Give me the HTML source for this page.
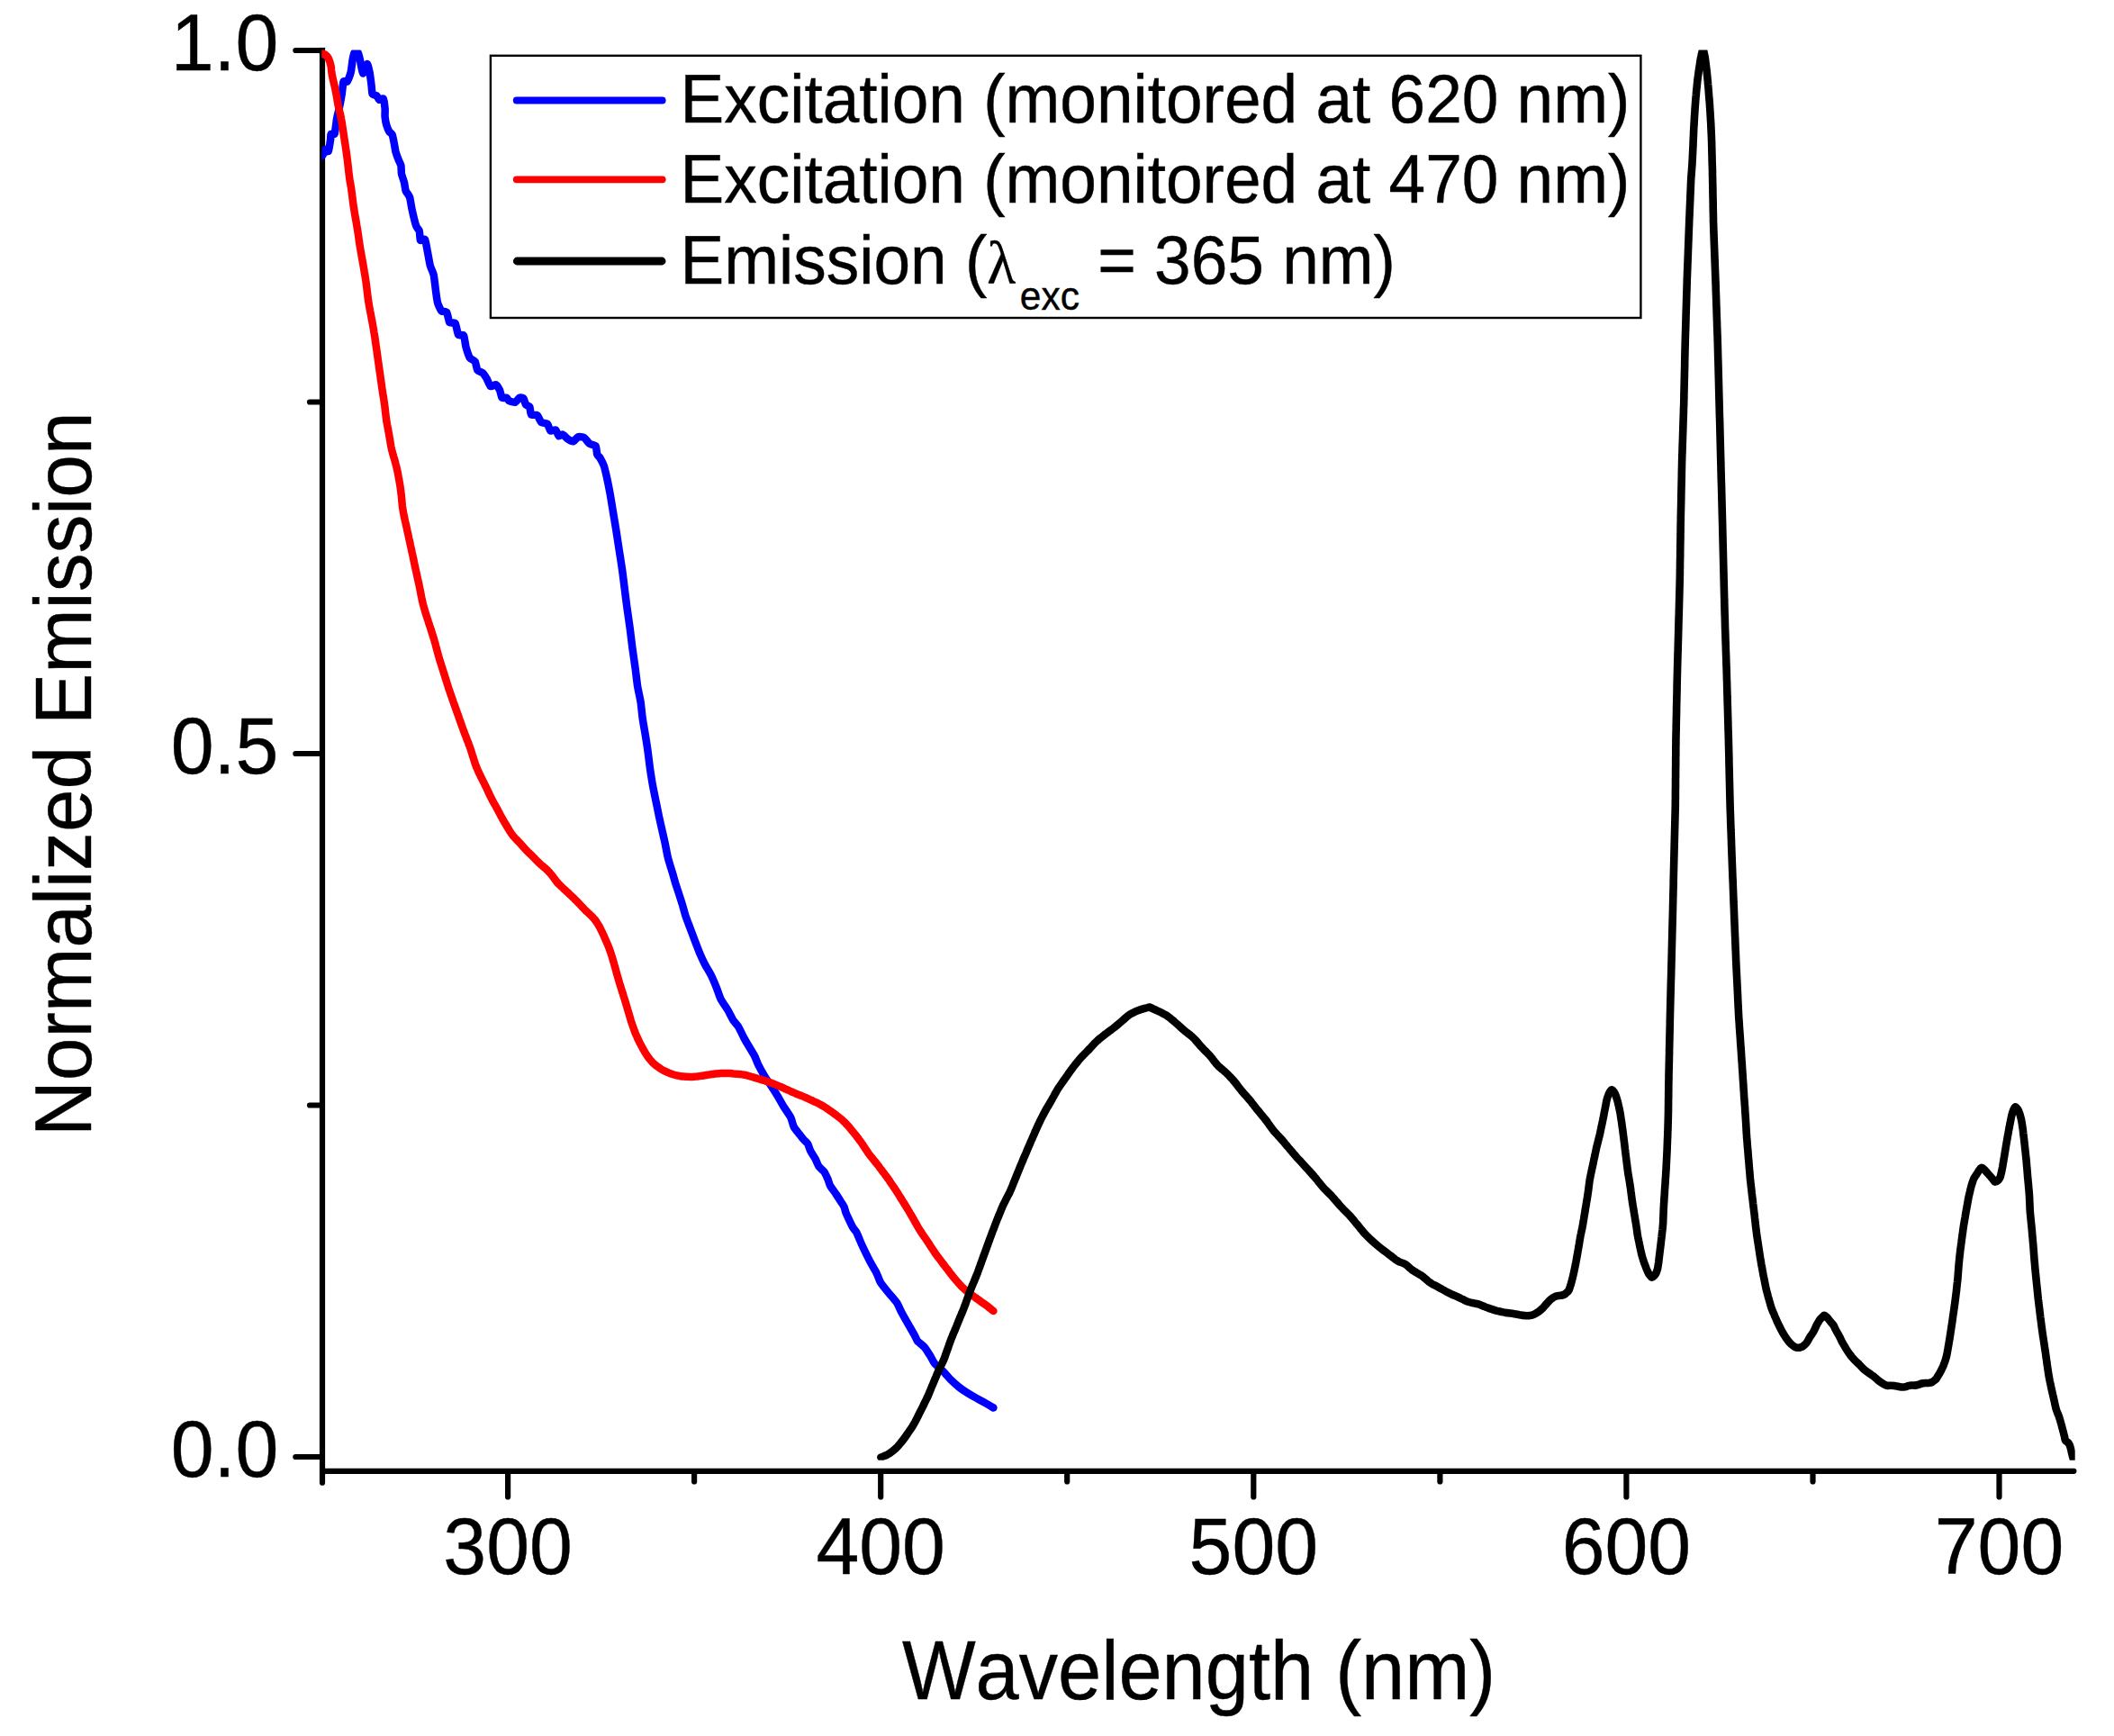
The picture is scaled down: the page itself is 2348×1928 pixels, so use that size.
<!DOCTYPE html>
<html lang="en"><head><meta charset="utf-8"><title>Normalized emission and excitation spectra</title>
<style>
html,body{margin:0;padding:0;background:#fff}
body{width:2348px;height:1928px;overflow:hidden}
svg{display:block}
text{font-family:"Liberation Sans",Arial,sans-serif;fill:#000;font-kerning:none}
.lam{font-family:"Liberation Serif","DejaVu Serif",serif}
</style></head><body>
<svg width="2348" height="1928" viewBox="0 0 2348 1928">
<rect width="2348" height="1928" fill="#fff"/>
<defs><clipPath id="plot"><rect x="357.3" y="55.5" width="1947.4" height="1566.3"/></clipPath></defs>
<g fill="none" stroke="#000" stroke-width="6.2" stroke-linecap="round">
<path d="M358.0 56V1646.7" />
<path d="M358.0 1633.8H2303.4" />
<path d="M328.3 1618.0H357.0"/>
<path d="M328.3 837.0H357.0"/>
<path d="M328.3 56.0H357.0"/>
<path d="M344 1227.5H357.0"/>
<path d="M344 446.5H357.0"/>
<path d="M564.1 1634.8V1662.5"/>
<path d="M978.2 1634.8V1662.5"/>
<path d="M1392.3 1634.8V1662.5"/>
<path d="M1806.4 1634.8V1662.5"/>
<path d="M2220.5 1634.8V1662.5"/>
<path d="M771.1 1634.8V1645.5"/>
<path d="M1185.2 1634.8V1645.5"/>
<path d="M1599.4 1634.8V1645.5"/>
<path d="M2013.5 1634.8V1645.5"/>
</g>
<rect x="354.9" y="52.9" width="6.2" height="8" fill="#000"/>
<g clip-path="url(#plot)" fill="none" stroke-linecap="round" stroke-linejoin="round">
<path id="blue" stroke="#0000ff" stroke-width="8.5" d="M357.0 173.5C357.1 173.4 358.0 173.2 358.4 172.5C358.8 171.8 360.7 166.7 361.3 166.2C361.9 165.7 364.2 169.0 364.8 167.9C365.4 166.8 366.8 157.1 367.1 155.2C367.4 153.3 367.1 149.6 367.6 148.9C368.1 148.2 371.1 150.0 371.7 148.3C372.3 146.6 373.5 135.1 374.0 132.2C374.5 129.3 376.3 122.3 376.9 119.5C377.5 116.7 379.2 107.4 379.7 104.5C380.2 101.6 380.9 92.1 381.5 90.7C382.1 89.3 384.8 91.3 385.5 90.7C386.2 90.1 387.9 85.7 388.4 84.4C388.9 83.1 389.8 79.9 390.1 78.0C390.4 76.1 391.4 67.3 391.8 65.3C392.2 63.3 393.0 59.1 393.6 58.4C394.2 57.7 397.0 57.6 397.6 58.4C398.2 59.2 399.5 64.8 399.9 66.5C400.3 68.2 401.2 74.2 401.6 75.7C402.0 77.2 402.9 81.6 403.4 81.5C403.9 81.4 405.7 75.6 406.2 74.6C406.7 73.6 407.6 70.6 408.0 71.1C408.4 71.6 409.8 76.8 410.3 79.2C410.8 81.6 412.3 92.8 412.6 95.3C412.9 97.8 413.1 103.4 413.7 104.5C414.3 105.6 417.6 105.6 418.3 106.2C419.1 106.8 420.4 110.6 421.2 110.9C421.9 111.2 425.2 108.7 425.8 109.7C426.4 110.7 427.4 118.6 427.6 120.6C427.8 122.6 427.4 128.1 427.6 129.9C427.8 131.8 428.8 137.5 429.3 139.1C429.8 140.7 431.6 145.0 432.2 146.0C432.8 147.0 435.0 148.0 435.6 149.4C436.2 150.8 437.5 157.8 437.9 159.8C438.3 161.8 439.1 167.3 439.6 169.0C440.1 170.7 441.9 175.6 442.5 177.1C443.1 178.6 445.0 182.4 445.4 184.0C445.8 185.6 445.6 191.4 446.0 193.2C446.4 195.0 448.4 200.6 448.9 202.4C449.4 204.2 450.1 210.3 450.6 211.7C451.1 213.1 453.0 215.5 453.5 216.3C454.0 217.1 454.9 218.3 455.3 220.0C455.7 221.7 457.1 230.5 457.8 233.6C458.5 236.7 461.3 248.4 462.1 250.7C462.9 253.0 465.3 255.1 465.8 256.7C466.3 258.3 466.3 266.0 466.9 266.9C467.5 267.8 471.2 264.7 472.0 266.0C472.8 267.3 474.3 276.8 474.9 279.7C475.5 282.6 477.1 292.4 477.8 295.0C478.5 297.6 481.1 302.6 481.7 305.3C482.3 308.0 483.5 319.2 483.9 322.3C484.3 325.4 485.4 333.7 486.0 336.0C486.6 338.3 489.2 344.2 490.2 345.3C491.2 346.4 495.3 345.7 496.2 347.0C497.1 348.3 498.4 356.9 499.3 358.1C500.2 359.3 504.6 357.6 505.6 359.0C506.6 360.4 508.1 370.4 509.0 371.8C509.9 373.2 514.1 371.2 515.0 372.6C515.9 374.0 516.8 382.9 517.5 385.4C518.2 387.9 520.8 395.8 521.8 397.4C522.8 399.0 526.9 400.2 527.7 401.6C528.6 403.0 529.4 409.7 530.3 411.0C531.2 412.3 535.3 413.5 536.3 414.4C537.3 415.3 539.6 418.9 540.5 420.4C541.4 421.8 543.8 428.2 544.8 428.9C545.8 429.6 549.8 426.8 550.8 427.2C551.8 427.6 554.3 431.8 555.0 433.2C555.7 434.6 556.8 440.8 557.6 441.7C558.4 442.6 561.9 441.4 562.7 441.7C563.5 442.0 564.4 444.6 565.3 445.1C566.2 445.6 570.9 447.1 572.1 446.8C573.3 446.5 576.3 442.1 577.2 441.7C578.1 441.3 580.8 441.7 581.5 442.5C582.2 443.3 583.3 448.5 584.0 449.4C584.7 450.3 587.7 450.8 588.3 451.9C588.9 453.0 589.1 459.5 590.0 460.4C590.9 461.3 595.7 460.4 596.8 461.3C597.9 462.2 600.0 468.1 601.1 469.0C602.2 469.9 606.9 469.8 607.9 470.7C608.9 471.6 610.4 477.7 611.3 478.4C612.2 479.1 616.4 476.9 617.3 477.5C618.2 478.1 619.9 483.8 620.7 484.3C621.5 484.8 623.9 482.3 624.9 482.6C625.9 482.9 629.7 486.9 630.9 487.7C632.1 488.5 635.8 490.6 636.9 490.3C638.0 490.1 640.8 485.6 642.0 485.2C643.2 484.8 647.5 485.2 648.8 486.0C650.1 486.8 653.5 491.9 654.8 492.8C656.1 493.7 660.8 494.2 661.6 495.4C662.5 496.6 662.8 503.5 663.3 504.8C663.8 506.1 665.7 507.3 666.4 508.5C667.1 509.7 669.9 514.9 670.7 517.1C671.5 519.3 673.4 527.6 674.1 530.7C674.8 533.8 676.8 544.0 677.5 547.8C678.2 551.5 680.2 564.1 680.9 568.2C681.6 572.3 683.6 584.4 684.3 588.7C685.0 593.0 687.0 606.4 687.7 610.8C688.4 615.2 690.5 628.7 691.1 633.0C691.7 637.3 693.2 649.4 693.7 653.5C694.2 657.6 695.7 669.6 696.3 674.0C696.9 678.4 699.1 693.4 699.7 697.8C700.3 702.2 701.6 713.9 702.2 718.3C702.8 722.7 705.0 737.8 705.6 742.2C706.2 746.6 707.6 758.9 708.2 762.6C708.8 766.4 711.1 776.2 711.6 779.7C712.1 783.2 713.1 793.3 713.6 797.1C714.1 800.9 716.4 813.8 717.0 817.5C717.6 821.2 719.1 830.9 719.6 834.6C720.1 838.4 721.6 850.9 722.2 855.0C722.8 859.1 724.8 871.4 725.6 875.5C726.4 879.6 728.9 891.9 729.8 896.0C730.6 900.1 733.2 912.5 734.1 916.4C735.0 920.3 737.6 931.6 738.4 935.2C739.2 938.8 740.9 948.8 741.8 952.2C742.6 955.6 746.0 966.4 746.9 969.3C747.8 972.2 749.6 979.0 750.3 981.2C751.0 983.4 752.9 989.1 753.7 991.5C754.5 993.9 757.2 1002.6 758.0 1005.1C758.8 1007.6 760.5 1014.4 761.4 1017.0C762.2 1019.6 765.5 1028.0 766.5 1030.7C767.5 1033.4 770.5 1041.4 771.6 1044.3C772.7 1047.2 776.5 1057.1 777.6 1059.7C778.7 1062.3 781.6 1068.4 782.8 1070.7C784.0 1073.0 788.3 1080.0 789.6 1082.6C790.9 1085.2 794.5 1093.6 795.6 1096.3C796.7 1099.0 799.4 1107.3 800.7 1109.9C802.0 1112.5 807.0 1119.6 808.4 1121.9C809.8 1124.2 813.1 1131.0 814.3 1132.9C815.5 1134.8 819.1 1138.6 820.3 1140.6C821.5 1142.6 825.1 1150.4 826.3 1152.6C827.5 1154.8 831.0 1160.8 832.2 1162.8C833.4 1164.8 837.2 1171.0 838.2 1173.0C839.2 1175.0 841.4 1181.0 842.5 1183.2C843.6 1185.4 847.9 1193.0 849.3 1195.2C850.7 1197.4 854.6 1203.2 856.1 1205.4C857.6 1207.6 862.3 1215.0 863.8 1217.4C865.2 1219.8 869.1 1226.9 870.6 1229.3C872.1 1231.7 877.2 1239.0 878.3 1241.2C879.4 1243.4 880.8 1249.7 881.7 1251.5C882.6 1253.3 886.6 1258.1 887.7 1259.5C888.8 1260.9 891.6 1264.5 892.5 1265.5C893.4 1266.5 896.2 1268.8 897.0 1270.0C897.8 1271.2 899.3 1276.3 900.1 1278.0C900.9 1279.7 904.5 1285.0 905.4 1286.7C906.3 1288.4 908.4 1293.9 909.4 1295.4C910.4 1296.9 914.4 1300.0 915.4 1301.4C916.4 1302.8 918.7 1307.9 919.4 1309.4C920.1 1310.9 921.2 1315.2 922.1 1316.8C923.0 1318.4 927.0 1323.9 928.1 1325.5C929.2 1327.1 931.9 1331.3 932.8 1332.8C933.7 1334.3 936.8 1338.8 937.5 1340.2C938.2 1341.6 938.9 1345.4 939.5 1346.9C940.1 1348.4 942.7 1353.9 943.5 1355.6C944.3 1357.3 946.7 1362.3 947.5 1363.6C948.3 1364.9 950.8 1367.6 951.5 1368.9C952.2 1370.2 954.2 1375.3 954.9 1377.0C955.6 1378.7 957.7 1383.5 958.9 1386.0C960.1 1388.5 965.5 1399.5 967.0 1402.3C968.5 1405.1 972.7 1412.1 973.8 1414.3C974.9 1416.5 976.7 1422.3 978.1 1424.5C979.5 1426.7 985.6 1434.2 987.4 1436.4C989.2 1438.6 994.5 1444.5 996.0 1446.7C997.5 1448.9 1000.5 1456.0 1001.9 1458.6C1003.3 1461.1 1008.2 1469.8 1009.6 1472.2C1011.0 1474.6 1014.7 1480.8 1015.6 1482.5C1016.5 1484.2 1017.9 1487.9 1019.0 1489.3C1020.1 1490.7 1025.2 1494.4 1026.7 1496.1C1028.2 1497.8 1032.3 1504.4 1033.5 1506.3C1034.7 1508.2 1037.1 1513.2 1038.6 1514.9C1040.0 1516.6 1046.2 1521.6 1048.0 1523.4C1049.8 1525.2 1054.8 1531.1 1056.5 1532.8C1058.2 1534.5 1063.3 1539.0 1065.0 1540.4C1066.7 1541.8 1071.7 1545.2 1073.6 1546.4C1075.5 1547.6 1081.8 1551.3 1083.8 1552.4C1085.8 1553.5 1091.2 1556.4 1093.2 1557.5C1095.2 1558.6 1102.4 1562.9 1103.4 1563.5"/>
<path id="red" stroke="#ff0000" stroke-width="8.5" d="M357.0 57.5C357.2 58.0 357.7 59.7 358.4 60.2C359.1 60.7 360.2 59.9 361.3 60.7C362.4 61.5 363.8 62.7 364.8 64.8C365.9 66.9 367.1 71.3 367.6 73.4C368.1 75.5 367.9 76.1 368.0 77.4C368.2 78.7 368.3 80.0 368.5 81.3C368.7 82.7 369.0 84.0 369.2 85.3C369.5 86.6 369.8 87.9 370.1 89.2C370.4 90.5 370.7 91.7 371.0 93.0C371.3 94.3 371.6 95.6 371.9 96.9C372.2 98.2 372.5 99.5 372.7 100.8C373.0 102.1 373.2 103.5 373.5 104.8C373.7 106.1 373.9 107.4 374.2 108.7C374.4 110.0 374.6 111.3 374.8 112.6C375.1 113.9 375.3 115.3 375.5 116.6C375.8 117.9 376.1 119.2 376.4 120.4C376.7 121.7 377.0 123.0 377.3 124.3C377.7 125.6 378.0 126.9 378.3 128.2C378.5 129.5 378.8 130.8 379.0 132.1C379.3 133.4 379.5 134.7 379.7 136.0C379.9 137.3 380.1 138.6 380.3 140.0C380.5 141.3 380.7 142.6 380.9 143.9C381.1 145.2 381.3 146.6 381.5 147.9C381.7 149.2 381.9 150.5 382.1 151.8C382.3 153.1 382.5 154.5 382.7 155.8C382.9 157.1 383.1 158.4 383.3 159.7C383.5 161.0 383.7 162.4 383.9 163.7C384.1 165.0 384.3 166.3 384.5 167.6C384.7 169.0 384.9 170.3 385.0 171.6C385.2 172.9 385.4 174.2 385.6 175.6C385.7 176.9 385.9 178.2 386.1 179.5C386.2 180.9 386.4 182.2 386.5 183.5C386.7 184.8 386.8 186.1 387.0 187.5C387.1 188.8 387.2 190.1 387.4 191.4C387.5 192.8 387.7 194.1 387.9 195.4C388.1 196.7 388.2 198.1 388.4 199.4C388.6 200.7 388.9 202.0 389.1 203.3C389.3 204.6 389.5 205.9 389.8 207.2C390.0 208.6 390.2 209.9 390.4 211.2C390.5 212.5 390.7 213.8 390.9 215.2C391.0 216.5 391.2 217.8 391.4 219.1C391.5 220.4 391.7 221.8 391.9 223.1C392.0 224.4 392.2 225.7 392.4 227.0C392.6 228.4 392.8 229.7 393.0 231.0C393.2 232.3 393.4 233.6 393.6 234.9C393.8 236.3 394.0 237.6 394.3 238.9C394.5 240.2 394.7 241.5 395.0 242.8C395.2 244.1 395.4 245.5 395.7 246.8C395.9 248.1 396.1 249.4 396.3 250.7C396.6 252.0 396.8 253.3 397.0 254.6C397.2 256.0 397.4 257.3 397.6 258.6C397.8 259.9 398.0 261.2 398.2 262.6C398.4 263.9 398.5 265.2 398.7 266.5C398.9 267.8 399.1 269.2 399.3 270.5C399.5 271.8 399.7 273.1 399.9 274.4C400.1 275.7 400.3 277.1 400.6 278.4C400.8 279.7 401.0 281.0 401.3 282.3C401.5 283.6 401.7 284.9 402.0 286.2C402.2 287.6 402.5 288.9 402.7 290.2C402.9 291.5 403.2 292.8 403.4 294.1C403.6 295.4 403.8 296.7 404.1 298.1C404.3 299.4 404.5 300.7 404.7 302.0C405.0 303.3 405.2 304.6 405.4 305.9C405.6 307.3 405.8 308.6 406.0 309.9C406.2 311.2 406.4 312.5 406.6 313.8C406.8 315.2 406.9 316.5 407.1 317.8C407.3 319.1 407.4 320.5 407.6 321.8C407.7 323.1 407.9 324.4 408.1 325.8C408.2 327.1 408.4 328.4 408.5 329.7C408.7 331.0 408.9 332.4 409.1 333.7C409.2 335.0 409.5 336.3 409.7 337.6C409.9 338.9 410.1 340.3 410.4 341.6C410.6 342.9 410.9 344.2 411.1 345.5C411.4 346.8 411.6 348.1 411.9 349.4C412.1 350.7 412.4 352.0 412.6 353.3C412.9 354.7 413.1 356.0 413.4 357.3C413.6 358.6 413.8 359.9 414.1 361.2C414.3 362.5 414.5 363.8 414.8 365.1C415.0 366.5 415.2 367.8 415.4 369.1C415.7 370.4 415.9 371.7 416.1 373.0C416.3 374.4 416.5 375.7 416.7 377.0C416.9 378.3 417.0 379.6 417.2 380.9C417.4 382.3 417.6 383.6 417.8 384.9C418.0 386.2 418.2 387.5 418.4 388.9C418.6 390.2 418.7 391.5 418.9 392.8C419.1 394.1 419.3 395.5 419.5 396.8C419.7 398.1 419.8 399.4 420.0 400.7C420.2 402.1 420.4 403.4 420.6 404.7C420.8 406.0 421.0 407.3 421.1 408.7C421.3 410.0 421.5 411.3 421.7 412.6C421.9 413.9 422.1 415.3 422.3 416.6C422.4 417.9 422.6 419.2 422.8 420.5C423.0 421.9 423.2 423.2 423.4 424.5C423.6 425.8 423.8 427.1 423.9 428.5C424.1 429.8 424.3 431.1 424.5 432.4C424.7 433.7 424.9 435.1 425.1 436.4C425.3 437.7 425.5 439.0 425.7 440.3C426.0 441.6 426.2 443.0 426.4 444.3C426.6 445.6 426.8 446.9 426.9 448.2C427.1 449.6 427.3 450.9 427.5 452.2C427.6 453.5 427.8 454.8 427.9 456.2C428.1 457.5 428.2 458.8 428.4 460.1C428.5 461.5 428.7 462.8 428.9 464.1C429.0 465.4 429.2 466.7 429.4 468.0C429.6 469.4 429.9 470.7 430.1 472.0C430.4 473.3 430.6 474.6 430.9 475.9C431.1 477.2 431.4 478.5 431.6 479.8C431.8 481.2 432.1 482.5 432.3 483.8C432.5 485.1 432.7 486.4 433.0 487.7C433.2 489.0 433.4 490.4 433.6 491.7C433.8 493.0 434.1 494.3 434.3 495.6C434.6 496.9 434.8 498.2 435.1 499.5C435.5 500.8 435.8 502.1 436.1 503.4C436.5 504.6 436.9 505.9 437.2 507.2C437.6 508.5 438.0 509.7 438.4 511.0C438.7 512.3 439.1 513.6 439.4 514.9C439.8 516.2 440.1 517.4 440.4 518.7C440.7 520.0 441.0 521.3 441.3 522.6C441.6 523.9 441.8 525.3 442.1 526.6C442.3 527.9 442.6 529.2 442.8 530.5C443.1 531.8 443.3 533.1 443.5 534.4C443.7 535.7 444.0 537.1 444.2 538.4C444.4 539.7 444.6 541.0 444.8 542.3C445.0 543.6 445.1 545.0 445.3 546.3C445.5 547.6 445.6 548.9 445.8 550.2C445.9 551.6 446.0 552.9 446.2 554.2C446.3 555.5 446.4 556.9 446.5 558.2C446.6 559.5 446.8 560.9 446.9 562.2C447.1 563.5 447.3 564.8 447.5 566.1C447.7 567.4 447.9 568.7 448.2 570.0C448.4 571.4 448.7 572.7 449.0 574.0C449.3 575.3 449.5 576.6 449.8 577.9C450.1 579.2 450.4 580.5 450.7 581.8C451.0 583.1 451.3 584.4 451.6 585.7C451.9 587.0 452.1 588.3 452.4 589.6C452.7 590.9 453.0 592.2 453.3 593.5C453.6 594.8 453.9 596.1 454.1 597.4C454.4 598.7 454.7 600.0 455.0 601.3C455.3 602.6 455.6 603.9 455.8 605.2C456.1 606.5 456.4 607.8 456.7 609.1C457.0 610.4 457.3 611.7 457.5 613.0C457.8 614.3 458.1 615.6 458.4 616.9C458.6 618.2 458.9 619.5 459.2 620.8C459.5 622.1 459.8 623.4 460.0 624.8C460.3 626.1 460.6 627.4 460.9 628.7C461.2 630.0 461.4 631.3 461.7 632.6C462.0 633.9 462.3 635.2 462.6 636.5C462.9 637.8 463.2 639.1 463.4 640.4C463.7 641.7 464.0 643.0 464.3 644.3C464.6 645.6 464.9 646.9 465.2 648.2C465.4 649.5 465.7 650.8 466.0 652.1C466.2 653.4 466.5 654.7 466.8 656.0C467.0 657.3 467.3 658.6 467.5 660.0C467.8 661.3 468.0 662.6 468.3 663.9C468.6 665.2 468.8 666.5 469.1 667.8C469.4 669.1 469.7 670.4 470.1 671.7C470.4 673.0 470.8 674.2 471.1 675.5C471.5 676.8 471.9 678.1 472.2 679.3C472.6 680.6 473.0 681.9 473.4 683.2C473.8 684.4 474.2 685.7 474.7 687.0C475.1 688.2 475.5 689.5 475.9 690.8C476.3 692.0 476.7 693.3 477.1 694.6C477.6 695.8 478.0 697.1 478.4 698.4C478.8 699.6 479.2 700.9 479.6 702.2C480.0 703.5 480.4 704.7 480.8 706.0C481.2 707.3 481.6 708.5 482.0 709.8C482.4 711.1 482.7 712.4 483.1 713.7C483.5 714.9 483.8 716.2 484.1 717.5C484.5 718.8 484.8 720.1 485.2 721.4C485.5 722.7 485.8 724.0 486.2 725.2C486.5 726.5 486.9 727.8 487.3 729.1C487.6 730.4 488.0 731.7 488.4 732.9C488.8 734.2 489.2 735.5 489.6 736.7C490.0 738.0 490.4 739.3 490.8 740.5C491.2 741.8 491.6 743.1 492.0 744.4C492.4 745.6 492.8 746.9 493.2 748.2C493.6 749.4 494.0 750.7 494.4 752.0C494.8 753.3 495.2 754.5 495.6 755.8C496.0 757.1 496.4 758.4 496.8 759.6C497.2 760.9 497.6 762.2 498.0 763.4C498.4 764.7 498.8 766.0 499.3 767.2C499.7 768.5 500.1 769.8 500.6 771.0C501.0 772.3 501.4 773.5 501.9 774.8C502.3 776.0 502.8 777.3 503.2 778.6C503.7 779.8 504.1 781.1 504.5 782.3C505.0 783.6 505.4 784.8 505.9 786.1C506.3 787.4 506.8 788.6 507.2 789.9C507.7 791.1 508.1 792.4 508.6 793.6C509.0 794.9 509.5 796.1 509.9 797.4C510.3 798.7 510.8 799.9 511.2 801.2C511.7 802.4 512.1 803.7 512.6 804.9C513.0 806.2 513.5 807.5 513.9 808.7C514.4 810.0 514.8 811.2 515.3 812.5C515.8 813.7 516.2 815.0 516.7 816.2C517.2 817.4 517.7 818.7 518.1 819.9C518.6 821.2 519.1 822.4 519.6 823.7C520.1 824.9 520.5 826.1 521.0 827.4C521.5 828.6 521.9 829.9 522.4 831.2C522.8 832.4 523.2 833.7 523.6 834.9C524.0 836.2 524.4 837.5 524.8 838.8C525.2 840.0 525.6 841.3 526.0 842.6C526.4 843.9 526.8 845.1 527.2 846.4C527.6 847.6 528.0 848.9 528.5 850.1C529.0 851.4 529.5 852.6 530.0 853.8C530.5 855.1 531.1 856.3 531.6 857.5C532.2 858.7 532.8 859.9 533.4 861.1C533.9 862.3 534.5 863.5 535.1 864.7C535.7 865.9 536.3 867.1 536.9 868.2C537.5 869.4 538.1 870.6 538.7 871.8C539.3 873.0 539.8 874.2 540.4 875.4C541.0 876.6 541.6 877.8 542.1 879.0C542.7 880.2 543.3 881.5 543.8 882.7C544.4 883.9 545.0 885.1 545.6 886.2C546.2 887.4 546.8 888.6 547.4 889.8C548.0 890.9 548.7 892.1 549.3 893.2C550.0 894.4 550.7 895.5 551.3 896.7C552.0 897.8 552.6 899.0 553.2 900.2C553.8 901.3 554.4 902.5 555.0 903.7C555.6 904.9 556.2 906.1 556.9 907.2C557.5 908.4 558.2 909.6 558.8 910.7C559.5 911.9 560.2 913.0 560.9 914.1C561.6 915.3 562.2 916.4 562.9 917.5C563.6 918.7 564.3 919.8 565.0 921.0C565.6 922.1 566.3 923.2 567.0 924.3C567.7 925.4 568.5 926.5 569.3 927.5C570.1 928.6 571.0 929.5 571.8 930.5C572.7 931.5 573.7 932.4 574.6 933.3C575.5 934.3 576.4 935.2 577.3 936.2C578.2 937.2 579.1 938.2 579.9 939.1C580.8 940.1 581.7 941.1 582.6 942.1C583.4 943.1 584.3 944.1 585.3 945.0C586.2 946.0 587.2 946.9 588.1 947.8C589.1 948.7 590.0 949.6 591.0 950.5C591.9 951.4 592.9 952.4 593.8 953.3C594.7 954.3 595.6 955.2 596.6 956.2C597.5 957.1 598.4 958.0 599.4 958.9C600.3 959.8 601.3 960.7 602.3 961.5C603.3 962.4 604.3 963.2 605.3 964.0C606.3 964.9 607.3 965.7 608.2 966.7C609.1 967.6 610.0 968.5 610.8 969.5C611.7 970.5 612.5 971.6 613.3 972.6C614.1 973.7 614.9 974.8 615.7 975.8C616.5 976.9 617.3 978.0 618.1 979.0C618.9 980.0 619.8 981.0 620.7 981.9C621.6 982.9 622.6 983.8 623.5 984.7C624.5 985.6 625.5 986.5 626.4 987.4C627.4 988.3 628.4 989.2 629.4 990.1C630.4 991.0 631.3 991.9 632.3 992.8C633.3 993.7 634.2 994.6 635.2 995.6C636.2 996.5 637.1 997.4 638.1 998.3C639.0 999.3 640.0 1000.2 640.9 1001.1C641.8 1002.1 642.8 1003.1 643.7 1004.0C644.6 1005.0 645.5 1006.0 646.4 1007.0C647.3 1007.9 648.2 1008.9 649.1 1009.8C650.1 1010.7 651.0 1011.7 652.0 1012.6C653.0 1013.5 654.0 1014.4 654.9 1015.3C655.9 1016.2 656.8 1017.1 657.7 1018.0C658.7 1019.0 659.5 1020.0 660.4 1021.0C661.2 1022.0 662.0 1023.1 662.7 1024.2C663.5 1025.3 664.2 1026.4 664.8 1027.5C665.5 1028.7 666.1 1029.9 666.7 1031.0C667.3 1032.2 667.9 1033.4 668.5 1034.6C669.1 1035.8 669.6 1037.0 670.2 1038.2C670.7 1039.5 671.3 1040.7 671.8 1041.9C672.3 1043.1 672.9 1044.3 673.4 1045.5C673.9 1046.8 674.5 1048.0 675.0 1049.2C675.5 1050.4 676.0 1051.7 676.5 1052.9C677.0 1054.2 677.4 1055.4 677.8 1056.7C678.3 1057.9 678.7 1059.2 679.1 1060.5C679.5 1061.7 679.9 1063.0 680.3 1064.3C680.6 1065.6 681.0 1066.8 681.4 1068.1C681.8 1069.4 682.1 1070.7 682.5 1072.0C682.9 1073.2 683.2 1074.5 683.6 1075.8C683.9 1077.1 684.3 1078.4 684.6 1079.7C685.0 1081.0 685.3 1082.2 685.7 1083.5C686.1 1084.8 686.4 1086.1 686.8 1087.4C687.2 1088.6 687.5 1089.9 687.9 1091.2C688.3 1092.5 688.7 1093.8 689.1 1095.0C689.5 1096.3 689.9 1097.6 690.3 1098.8C690.7 1100.1 691.1 1101.4 691.5 1102.7C691.9 1103.9 692.3 1105.2 692.7 1106.5C693.1 1107.7 693.5 1109.0 693.9 1110.3C694.3 1111.6 694.7 1112.8 695.1 1114.1C695.4 1115.4 695.8 1116.7 696.2 1117.9C696.6 1119.2 697.0 1120.5 697.3 1121.8C697.7 1123.1 698.1 1124.3 698.5 1125.6C698.8 1126.9 699.2 1128.2 699.6 1129.4C700.0 1130.7 700.4 1132.0 700.7 1133.3C701.1 1134.5 701.5 1135.8 702.0 1137.1C702.4 1138.3 702.8 1139.6 703.3 1140.9C703.7 1142.1 704.2 1143.4 704.6 1144.6C705.1 1145.9 705.6 1147.1 706.1 1148.3C706.6 1149.5 707.2 1150.8 707.7 1152.0C708.2 1153.2 708.8 1154.4 709.4 1155.6C710.0 1156.8 710.5 1158.0 711.1 1159.2C711.7 1160.4 712.4 1161.6 713.0 1162.7C713.6 1163.9 714.3 1165.1 714.9 1166.2C715.6 1167.4 716.3 1168.5 717.0 1169.7C717.7 1170.8 718.4 1171.9 719.1 1173.0C719.9 1174.1 720.7 1175.2 721.5 1176.2C722.3 1177.2 723.2 1178.2 724.1 1179.2C725.0 1180.1 725.9 1181.0 726.9 1181.9C727.9 1182.8 728.9 1183.6 730.0 1184.4C731.1 1185.2 732.2 1185.9 733.3 1186.6C734.4 1187.4 735.5 1188.0 736.7 1188.7C737.9 1189.3 739.0 1189.9 740.2 1190.4C741.4 1191.0 742.7 1191.5 743.9 1192.0C745.1 1192.5 746.4 1192.9 747.6 1193.3C748.9 1193.7 750.2 1194.1 751.5 1194.4C752.7 1194.7 754.0 1194.9 755.3 1195.1C756.7 1195.3 758.0 1195.5 759.3 1195.6C760.6 1195.7 761.9 1195.8 763.3 1195.8C764.6 1195.9 765.9 1195.9 767.3 1195.9C768.6 1195.9 769.9 1195.8 771.2 1195.7C772.6 1195.7 773.9 1195.6 775.2 1195.4C776.5 1195.3 777.8 1195.1 779.1 1194.9C780.5 1194.7 781.8 1194.4 783.1 1194.2C784.4 1194.0 785.7 1193.8 787.0 1193.6C788.3 1193.4 789.6 1193.2 791.0 1193.0C792.3 1192.8 793.6 1192.7 794.9 1192.5C796.3 1192.4 797.6 1192.3 798.9 1192.2C800.2 1192.1 801.6 1192.1 802.9 1192.0C804.2 1192.0 805.6 1192.0 806.9 1192.0C808.2 1192.1 809.5 1192.1 810.9 1192.1C812.2 1192.2 813.5 1192.3 814.9 1192.4C816.2 1192.4 817.5 1192.5 818.8 1192.7C820.2 1192.8 821.5 1192.9 822.8 1193.1C824.1 1193.3 825.4 1193.5 826.7 1193.7C828.0 1194.0 829.3 1194.3 830.6 1194.6C831.9 1194.9 833.1 1195.3 834.4 1195.7C835.7 1196.1 836.9 1196.5 838.2 1196.9C839.5 1197.2 840.8 1197.6 842.0 1198.0C843.3 1198.4 844.6 1198.7 845.9 1199.1C847.1 1199.5 848.4 1199.9 849.7 1200.3C850.9 1200.7 852.2 1201.1 853.5 1201.6C854.7 1202.0 856.0 1202.5 857.2 1203.0C858.5 1203.4 859.7 1203.9 860.9 1204.4C862.2 1204.9 863.4 1205.4 864.6 1205.9C865.9 1206.4 867.1 1207.0 868.3 1207.5C869.5 1208.0 870.7 1208.6 871.9 1209.2C873.2 1209.7 874.4 1210.3 875.6 1210.8C876.8 1211.4 878.0 1212.0 879.2 1212.5C880.4 1213.0 881.6 1213.6 882.9 1214.1C884.1 1214.6 885.3 1215.1 886.6 1215.6C887.8 1216.1 889.0 1216.5 890.3 1217.0C891.5 1217.6 892.7 1218.1 894.0 1218.6C895.2 1219.1 896.4 1219.7 897.6 1220.2C898.8 1220.8 900.0 1221.4 901.2 1221.9C902.4 1222.5 903.6 1223.0 904.8 1223.6C906.1 1224.2 907.3 1224.7 908.5 1225.3C909.7 1225.9 910.8 1226.5 912.0 1227.1C913.2 1227.7 914.3 1228.4 915.4 1229.1C916.6 1229.8 917.7 1230.5 918.8 1231.3C919.9 1232.0 920.9 1232.8 922.0 1233.6C923.1 1234.3 924.2 1235.1 925.3 1235.9C926.3 1236.7 927.4 1237.5 928.5 1238.3C929.5 1239.1 930.6 1239.9 931.7 1240.7C932.7 1241.5 933.7 1242.3 934.7 1243.2C935.7 1244.1 936.7 1245.0 937.6 1245.9C938.6 1246.8 939.5 1247.8 940.4 1248.8C941.3 1249.7 942.2 1250.7 943.0 1251.7C943.9 1252.7 944.8 1253.8 945.6 1254.8C946.5 1255.8 947.3 1256.8 948.2 1257.9C949.0 1258.9 949.8 1259.9 950.7 1261.0C951.5 1262.0 952.3 1263.1 953.1 1264.1C953.9 1265.2 954.7 1266.3 955.5 1267.4C956.3 1268.4 957.0 1269.5 957.8 1270.6C958.5 1271.7 959.2 1272.9 960.0 1274.0C960.7 1275.1 961.4 1276.2 962.2 1277.3C962.9 1278.4 963.7 1279.5 964.4 1280.6C965.2 1281.6 966.0 1282.7 966.8 1283.8C967.7 1284.8 968.5 1285.9 969.3 1286.9C970.1 1287.9 971.0 1289.0 971.8 1290.0C972.7 1291.1 973.5 1292.1 974.3 1293.1C975.1 1294.2 976.0 1295.2 976.8 1296.3C977.6 1297.3 978.4 1298.4 979.2 1299.5C980.0 1300.5 980.8 1301.6 981.6 1302.7C982.4 1303.7 983.2 1304.8 984.0 1305.9C984.8 1306.9 985.6 1308.0 986.3 1309.1C987.1 1310.2 987.9 1311.3 988.6 1312.4C989.4 1313.5 990.1 1314.6 990.9 1315.7C991.6 1316.8 992.4 1317.9 993.1 1319.0C993.9 1320.1 994.6 1321.2 995.3 1322.3C996.0 1323.5 996.8 1324.6 997.5 1325.7C998.2 1326.8 998.9 1328.0 999.6 1329.1C1000.3 1330.2 1001.0 1331.3 1001.7 1332.5C1002.4 1333.6 1003.1 1334.7 1003.8 1335.9C1004.5 1337.0 1005.2 1338.1 1005.9 1339.3C1006.6 1340.4 1007.3 1341.6 1008.0 1342.7C1008.7 1343.8 1009.4 1345.0 1010.1 1346.1C1010.7 1347.3 1011.4 1348.4 1012.1 1349.6C1012.8 1350.7 1013.4 1351.9 1014.1 1353.0C1014.7 1354.2 1015.4 1355.4 1016.0 1356.5C1016.7 1357.7 1017.3 1358.9 1018.0 1360.0C1018.7 1361.2 1019.3 1362.3 1020.0 1363.5C1020.7 1364.6 1021.4 1365.7 1022.1 1366.9C1022.8 1368.0 1023.5 1369.1 1024.3 1370.2C1025.0 1371.3 1025.8 1372.4 1026.5 1373.5C1027.3 1374.6 1028.1 1375.7 1028.8 1376.8C1029.6 1377.9 1030.3 1379.0 1031.0 1380.1C1031.8 1381.2 1032.5 1382.3 1033.2 1383.5C1033.9 1384.6 1034.6 1385.7 1035.4 1386.8C1036.1 1387.9 1036.8 1389.0 1037.6 1390.1C1038.3 1391.2 1039.1 1392.3 1039.9 1393.4C1040.6 1394.5 1041.4 1395.6 1042.2 1396.6C1043.0 1397.7 1043.9 1398.7 1044.7 1399.8C1045.5 1400.9 1046.3 1401.9 1047.1 1403.0C1047.9 1404.0 1048.7 1405.1 1049.5 1406.2C1050.3 1407.2 1051.1 1408.3 1052.0 1409.3C1052.8 1410.4 1053.6 1411.5 1054.4 1412.5C1055.2 1413.6 1056.0 1414.6 1056.8 1415.7C1057.6 1416.7 1058.5 1417.8 1059.3 1418.8C1060.2 1419.8 1061.0 1420.9 1061.9 1421.9C1062.7 1422.9 1063.6 1423.9 1064.5 1424.9C1065.4 1425.9 1066.3 1426.9 1067.2 1427.8C1068.1 1428.8 1069.1 1429.7 1070.0 1430.6C1071.0 1431.5 1072.0 1432.4 1073.0 1433.3C1074.0 1434.1 1075.1 1435.0 1076.1 1435.8C1077.2 1436.6 1078.2 1437.4 1079.3 1438.2C1080.4 1439.0 1081.4 1439.8 1082.5 1440.5C1083.6 1441.3 1084.7 1442.1 1085.8 1442.8C1086.9 1443.6 1088.0 1444.4 1089.1 1445.2C1090.1 1445.9 1091.2 1446.7 1092.3 1447.5C1093.4 1448.3 1094.5 1449.0 1095.5 1449.8C1096.6 1450.6 1097.7 1451.4 1098.7 1452.3C1099.8 1453.1 1101.1 1454.1 1101.8 1454.8C1102.6 1455.4 1103.1 1455.8 1103.4 1456.0"/>
<path id="black" stroke="#000" stroke-width="8.6" d="M978.4 1618.5C979.0 1618.3 980.9 1617.6 982.1 1617.0C983.3 1616.5 984.6 1616.0 985.7 1615.4C986.9 1614.7 988.0 1614.0 989.1 1613.3C990.2 1612.5 991.3 1611.7 992.3 1610.9C993.3 1610.0 994.3 1609.1 995.3 1608.2C996.2 1607.3 997.1 1606.3 998.0 1605.3C998.9 1604.3 999.8 1603.3 1000.6 1602.3C1001.5 1601.2 1002.3 1600.2 1003.1 1599.1C1003.9 1598.1 1004.7 1597.0 1005.5 1595.9C1006.2 1594.8 1007.0 1593.7 1007.8 1592.6C1008.5 1591.5 1009.3 1590.4 1010.0 1589.3C1010.8 1588.2 1011.5 1587.1 1012.3 1586.0C1013.0 1584.9 1013.7 1583.8 1014.4 1582.6C1015.1 1581.5 1015.7 1580.3 1016.4 1579.2C1017.0 1578.0 1017.6 1576.8 1018.2 1575.6C1018.8 1574.4 1019.4 1573.2 1020.0 1572.0C1020.6 1570.8 1021.2 1569.6 1021.8 1568.4C1022.4 1567.3 1023.0 1566.1 1023.6 1564.9C1024.2 1563.7 1024.8 1562.5 1025.4 1561.3C1026.0 1560.1 1026.6 1558.9 1027.1 1557.7C1027.7 1556.5 1028.3 1555.3 1028.9 1554.1C1029.5 1552.9 1030.1 1551.7 1030.6 1550.5C1031.2 1549.3 1031.7 1548.0 1032.2 1546.8C1032.7 1545.6 1033.2 1544.3 1033.7 1543.1C1034.2 1541.9 1034.7 1540.6 1035.2 1539.4C1035.7 1538.2 1036.3 1537.0 1036.8 1535.7C1037.3 1534.5 1037.8 1533.3 1038.3 1532.0C1038.9 1530.8 1039.4 1529.6 1039.9 1528.4C1040.4 1527.1 1040.9 1525.9 1041.4 1524.7C1042.0 1523.4 1042.5 1522.2 1043.0 1521.0C1043.6 1519.8 1044.2 1518.6 1044.8 1517.4C1045.3 1516.2 1045.9 1515.0 1046.5 1513.8C1047.1 1512.6 1047.7 1511.4 1048.2 1510.2C1048.7 1508.9 1049.2 1507.7 1049.6 1506.4C1050.1 1505.2 1050.5 1503.9 1050.9 1502.7C1051.4 1501.4 1051.8 1500.1 1052.3 1498.9C1052.7 1497.6 1053.1 1496.4 1053.6 1495.1C1054.0 1493.8 1054.5 1492.6 1054.9 1491.3C1055.4 1490.1 1055.8 1488.8 1056.3 1487.6C1056.8 1486.3 1057.3 1485.1 1057.8 1483.9C1058.3 1482.6 1058.8 1481.4 1059.3 1480.2C1059.8 1478.9 1060.4 1477.7 1060.9 1476.5C1061.4 1475.2 1061.9 1474.0 1062.4 1472.8C1062.9 1471.5 1063.4 1470.3 1063.9 1469.1C1064.4 1467.8 1064.9 1466.6 1065.4 1465.4C1065.9 1464.1 1066.4 1462.9 1066.9 1461.7C1067.4 1460.4 1068.0 1459.2 1068.5 1458.0C1069.0 1456.7 1069.5 1455.5 1070.0 1454.3C1070.5 1453.0 1071.0 1451.8 1071.4 1450.5C1071.9 1449.3 1072.4 1448.0 1072.8 1446.8C1073.3 1445.5 1073.7 1444.3 1074.2 1443.0C1074.6 1441.8 1075.1 1440.5 1075.5 1439.2C1076.0 1438.0 1076.4 1436.7 1076.9 1435.5C1077.4 1434.2 1077.9 1433.0 1078.3 1431.7C1078.8 1430.5 1079.3 1429.3 1079.8 1428.0C1080.3 1426.8 1080.9 1425.6 1081.4 1424.3C1081.9 1423.1 1082.4 1421.9 1082.9 1420.6C1083.4 1419.4 1083.9 1418.2 1084.4 1416.9C1084.9 1415.7 1085.4 1414.5 1085.9 1413.2C1086.3 1412.0 1086.8 1410.7 1087.2 1409.5C1087.7 1408.2 1088.2 1407.0 1088.6 1405.7C1089.1 1404.4 1089.5 1403.2 1090.0 1401.9C1090.4 1400.7 1090.9 1399.4 1091.3 1398.2C1091.8 1396.9 1092.2 1395.7 1092.7 1394.4C1093.1 1393.2 1093.6 1391.9 1094.1 1390.6C1094.5 1389.4 1095.0 1388.1 1095.4 1386.9C1095.9 1385.6 1096.3 1384.4 1096.8 1383.1C1097.2 1381.9 1097.7 1380.6 1098.1 1379.4C1098.6 1378.1 1099.1 1376.8 1099.5 1375.6C1100.0 1374.3 1100.5 1373.1 1100.9 1371.9C1101.4 1370.6 1101.9 1369.4 1102.3 1368.1C1102.8 1366.9 1103.3 1365.6 1103.8 1364.4C1104.2 1363.1 1104.7 1361.9 1105.2 1360.6C1105.6 1359.4 1106.1 1358.1 1106.6 1356.9C1107.1 1355.6 1107.6 1354.4 1108.1 1353.2C1108.6 1351.9 1109.1 1350.7 1109.6 1349.5C1110.1 1348.2 1110.6 1347.0 1111.1 1345.8C1111.6 1344.5 1112.1 1343.3 1112.6 1342.1C1113.2 1340.8 1113.7 1339.6 1114.2 1338.4C1114.8 1337.2 1115.4 1336.0 1116.0 1334.8C1116.6 1333.6 1117.2 1332.4 1117.8 1331.2C1118.4 1330.1 1119.1 1328.9 1119.7 1327.7C1120.3 1326.5 1120.9 1325.3 1121.5 1324.1C1122.0 1322.9 1122.5 1321.7 1123.1 1320.5C1123.6 1319.2 1124.1 1318.0 1124.6 1316.8C1125.1 1315.5 1125.6 1314.3 1126.1 1313.0C1126.6 1311.8 1127.1 1310.6 1127.6 1309.3C1128.1 1308.1 1128.6 1306.9 1129.1 1305.6C1129.6 1304.4 1130.1 1303.2 1130.6 1301.9C1131.1 1300.7 1131.6 1299.5 1132.1 1298.2C1132.6 1297.0 1133.1 1295.8 1133.6 1294.5C1134.1 1293.3 1134.7 1292.1 1135.2 1290.8C1135.7 1289.6 1136.2 1288.4 1136.7 1287.1C1137.2 1285.9 1137.8 1284.7 1138.3 1283.5C1138.8 1282.2 1139.3 1281.0 1139.9 1279.8C1140.4 1278.5 1140.9 1277.3 1141.4 1276.1C1141.9 1274.9 1142.5 1273.6 1143.0 1272.4C1143.5 1271.2 1144.1 1270.0 1144.6 1268.7C1145.1 1267.5 1145.6 1266.3 1146.2 1265.1C1146.7 1263.8 1147.2 1262.6 1147.8 1261.4C1148.3 1260.2 1148.9 1259.0 1149.4 1257.7C1149.9 1256.5 1150.5 1255.3 1151.0 1254.1C1151.6 1252.9 1152.1 1251.6 1152.7 1250.4C1153.2 1249.2 1153.8 1248.0 1154.3 1246.8C1154.9 1245.6 1155.5 1244.4 1156.1 1243.2C1156.7 1242.0 1157.3 1240.8 1157.9 1239.7C1158.5 1238.5 1159.1 1237.3 1159.8 1236.1C1160.4 1234.9 1161.0 1233.7 1161.7 1232.6C1162.3 1231.4 1163.0 1230.3 1163.7 1229.1C1164.4 1228.0 1165.1 1226.8 1165.7 1225.7C1166.4 1224.5 1167.1 1223.4 1167.8 1222.2C1168.4 1221.1 1169.1 1219.9 1169.7 1218.7C1170.4 1217.6 1171.0 1216.4 1171.6 1215.2C1172.3 1214.1 1172.9 1212.9 1173.6 1211.7C1174.2 1210.6 1174.9 1209.4 1175.7 1208.3C1176.4 1207.2 1177.2 1206.1 1177.9 1205.0C1178.7 1203.9 1179.4 1202.8 1180.2 1201.7C1181.0 1200.6 1181.7 1199.5 1182.5 1198.5C1183.3 1197.4 1184.0 1196.3 1184.8 1195.2C1185.6 1194.1 1186.3 1193.0 1187.1 1191.9C1187.9 1190.8 1188.7 1189.7 1189.4 1188.7C1190.2 1187.6 1191.0 1186.5 1191.8 1185.5C1192.6 1184.4 1193.5 1183.4 1194.3 1182.3C1195.1 1181.3 1196.0 1180.2 1196.8 1179.2C1197.6 1178.1 1198.4 1177.1 1199.3 1176.1C1200.2 1175.1 1201.1 1174.1 1202.0 1173.1C1202.9 1172.2 1203.9 1171.2 1204.8 1170.3C1205.8 1169.3 1206.7 1168.4 1207.6 1167.4C1208.6 1166.5 1209.5 1165.5 1210.4 1164.5C1211.3 1163.6 1212.2 1162.6 1213.1 1161.6C1214.0 1160.6 1214.9 1159.6 1215.8 1158.6C1216.7 1157.7 1217.7 1156.8 1218.7 1155.9C1219.7 1155.0 1220.7 1154.2 1221.7 1153.3C1222.8 1152.5 1223.8 1151.6 1224.8 1150.8C1225.9 1150.0 1226.9 1149.1 1228.0 1148.3C1229.1 1147.5 1230.1 1146.7 1231.2 1145.9C1232.3 1145.2 1233.4 1144.4 1234.4 1143.6C1235.5 1142.8 1236.6 1141.9 1237.6 1141.1C1238.6 1140.3 1239.7 1139.4 1240.7 1138.6C1241.7 1137.7 1242.8 1136.9 1243.8 1136.0C1244.8 1135.2 1245.8 1134.3 1246.8 1133.4C1247.8 1132.6 1248.8 1131.7 1249.8 1130.8C1250.8 1129.9 1251.8 1129.0 1252.8 1128.2C1253.9 1127.4 1255.0 1126.6 1256.1 1125.9C1257.2 1125.3 1258.5 1124.7 1259.7 1124.2C1260.9 1123.6 1262.1 1123.0 1263.3 1122.5C1264.6 1122.0 1265.8 1121.5 1267.1 1121.1C1268.3 1120.7 1269.6 1120.4 1270.9 1120.0C1272.2 1119.7 1273.8 1119.3 1274.8 1119.0C1275.7 1118.8 1275.8 1118.3 1276.7 1118.5C1277.6 1118.7 1279.1 1119.6 1280.3 1120.2C1281.5 1120.7 1282.8 1121.3 1284.0 1121.8C1285.2 1122.4 1286.4 1123.0 1287.6 1123.5C1288.8 1124.1 1290.0 1124.7 1291.2 1125.3C1292.4 1125.9 1293.6 1126.5 1294.7 1127.2C1295.8 1127.9 1296.9 1128.6 1298.0 1129.4C1299.0 1130.2 1300.0 1131.1 1301.1 1131.9C1302.1 1132.8 1303.2 1133.6 1304.2 1134.5C1305.2 1135.3 1306.2 1136.2 1307.2 1137.1C1308.2 1138.0 1309.1 1138.9 1310.1 1139.8C1311.1 1140.7 1312.1 1141.6 1313.1 1142.5C1314.1 1143.4 1315.1 1144.2 1316.1 1145.1C1317.1 1145.9 1318.2 1146.7 1319.3 1147.5C1320.3 1148.4 1321.4 1149.1 1322.4 1150.0C1323.5 1150.8 1324.5 1151.6 1325.4 1152.6C1326.4 1153.5 1327.3 1154.5 1328.1 1155.5C1329.0 1156.5 1329.9 1157.5 1330.7 1158.5C1331.6 1159.5 1332.5 1160.6 1333.3 1161.6C1334.2 1162.5 1335.2 1163.5 1336.1 1164.5C1337.0 1165.4 1337.9 1166.4 1338.9 1167.3C1339.8 1168.3 1340.8 1169.2 1341.7 1170.2C1342.6 1171.1 1343.5 1172.1 1344.4 1173.1C1345.2 1174.1 1346.1 1175.2 1346.9 1176.2C1347.7 1177.3 1348.5 1178.3 1349.3 1179.4C1350.2 1180.4 1351.0 1181.5 1351.9 1182.5C1352.8 1183.4 1353.7 1184.4 1354.7 1185.3C1355.7 1186.2 1356.7 1187.0 1357.7 1187.9C1358.7 1188.7 1359.8 1189.6 1360.8 1190.5C1361.8 1191.3 1362.7 1192.2 1363.7 1193.2C1364.6 1194.1 1365.5 1195.1 1366.4 1196.1C1367.3 1197.0 1368.2 1198.0 1369.1 1199.0C1370.0 1200.0 1370.9 1201.0 1371.7 1202.0C1372.6 1203.1 1373.4 1204.1 1374.2 1205.2C1375.0 1206.2 1375.8 1207.3 1376.6 1208.4C1377.5 1209.4 1378.3 1210.5 1379.1 1211.5C1379.9 1212.5 1380.8 1213.5 1381.7 1214.6C1382.6 1215.6 1383.5 1216.5 1384.4 1217.5C1385.2 1218.5 1386.1 1219.5 1387.0 1220.5C1387.9 1221.5 1388.7 1222.5 1389.6 1223.6C1390.4 1224.6 1391.2 1225.7 1392.1 1226.7C1392.9 1227.8 1393.7 1228.8 1394.5 1229.9C1395.3 1230.9 1396.1 1232.0 1397.0 1233.0C1397.8 1234.0 1398.7 1235.1 1399.5 1236.1C1400.4 1237.1 1401.2 1238.1 1402.1 1239.2C1402.9 1240.2 1403.8 1241.2 1404.6 1242.2C1405.5 1243.3 1406.3 1244.3 1407.1 1245.4C1407.9 1246.5 1408.6 1247.6 1409.4 1248.7C1410.2 1249.7 1410.9 1250.9 1411.7 1251.9C1412.5 1253.0 1413.2 1254.1 1414.1 1255.1C1414.9 1256.2 1415.8 1257.2 1416.7 1258.2C1417.6 1259.2 1418.5 1260.1 1419.4 1261.1C1420.3 1262.1 1421.2 1263.0 1422.1 1264.0C1423.0 1265.0 1423.9 1266.0 1424.8 1267.0C1425.6 1268.0 1426.5 1269.0 1427.3 1270.1C1428.2 1271.1 1429.0 1272.1 1429.9 1273.1C1430.8 1274.2 1431.6 1275.2 1432.5 1276.2C1433.3 1277.2 1434.2 1278.2 1435.1 1279.2C1435.9 1280.2 1436.8 1281.3 1437.7 1282.3C1438.5 1283.3 1439.4 1284.3 1440.3 1285.3C1441.2 1286.3 1442.1 1287.3 1443.0 1288.2C1443.9 1289.2 1444.8 1290.2 1445.7 1291.2C1446.6 1292.2 1447.5 1293.2 1448.4 1294.1C1449.3 1295.1 1450.2 1296.1 1451.1 1297.1C1452.0 1298.1 1452.9 1299.0 1453.8 1300.0C1454.7 1301.0 1455.6 1302.0 1456.5 1303.0C1457.4 1304.0 1458.3 1305.0 1459.1 1306.0C1460.0 1307.0 1460.8 1308.0 1461.7 1309.0C1462.5 1310.1 1463.4 1311.1 1464.2 1312.2C1465.0 1313.2 1465.9 1314.2 1466.7 1315.3C1467.5 1316.3 1468.4 1317.3 1469.3 1318.3C1470.2 1319.3 1471.1 1320.3 1472.0 1321.2C1473.0 1322.2 1473.9 1323.1 1474.9 1324.1C1475.8 1325.0 1476.7 1325.9 1477.7 1326.9C1478.6 1327.8 1479.5 1328.8 1480.4 1329.8C1481.3 1330.8 1482.2 1331.8 1483.0 1332.8C1483.9 1333.8 1484.8 1334.8 1485.6 1335.8C1486.5 1336.9 1487.4 1337.9 1488.2 1338.9C1489.1 1339.9 1490.0 1340.8 1491.0 1341.8C1491.9 1342.8 1492.8 1343.7 1493.8 1344.7C1494.7 1345.6 1495.6 1346.5 1496.6 1347.5C1497.5 1348.4 1498.5 1349.4 1499.4 1350.4C1500.3 1351.3 1501.1 1352.3 1502.0 1353.4C1502.9 1354.4 1503.7 1355.4 1504.5 1356.4C1505.4 1357.5 1506.2 1358.5 1507.1 1359.5C1507.9 1360.5 1508.8 1361.6 1509.6 1362.6C1510.5 1363.6 1511.3 1364.7 1512.1 1365.7C1513.0 1366.7 1513.8 1367.8 1514.7 1368.8C1515.6 1369.8 1516.5 1370.7 1517.4 1371.7C1518.3 1372.7 1519.3 1373.6 1520.2 1374.5C1521.2 1375.5 1522.1 1376.4 1523.1 1377.3C1524.1 1378.2 1525.1 1379.1 1526.1 1380.0C1527.1 1380.9 1528.1 1381.7 1529.1 1382.6C1530.1 1383.4 1531.2 1384.3 1532.2 1385.2C1533.2 1386.0 1534.3 1386.8 1535.3 1387.6C1536.4 1388.5 1537.4 1389.2 1538.5 1390.0C1539.6 1390.8 1540.7 1391.6 1541.7 1392.4C1542.8 1393.2 1543.9 1394.0 1544.9 1394.8C1546.0 1395.6 1547.0 1396.5 1548.1 1397.3C1549.1 1398.1 1550.1 1399.0 1551.2 1399.7C1552.3 1400.4 1553.5 1401.0 1554.7 1401.6C1555.9 1402.1 1557.2 1402.4 1558.4 1402.9C1559.6 1403.4 1560.8 1404.0 1561.9 1404.7C1562.9 1405.4 1563.9 1406.4 1564.8 1407.3C1565.8 1408.1 1566.8 1409.1 1567.8 1409.9C1568.8 1410.7 1570.0 1411.4 1571.1 1412.1C1572.2 1412.9 1573.4 1413.5 1574.5 1414.1C1575.7 1414.8 1576.9 1415.4 1578.0 1416.2C1579.1 1416.9 1580.2 1417.6 1581.2 1418.5C1582.3 1419.3 1583.2 1420.2 1584.2 1421.1C1585.3 1421.9 1586.2 1422.9 1587.3 1423.7C1588.3 1424.5 1589.4 1425.2 1590.5 1425.9C1591.7 1426.6 1592.9 1427.1 1594.1 1427.7C1595.3 1428.3 1596.5 1428.9 1597.6 1429.6C1598.8 1430.2 1600.0 1430.8 1601.1 1431.5C1602.3 1432.1 1603.4 1432.8 1604.6 1433.5C1605.8 1434.1 1606.9 1434.8 1608.1 1435.4C1609.3 1436.0 1610.5 1436.6 1611.7 1437.2C1612.9 1437.7 1614.1 1438.2 1615.4 1438.7C1616.6 1439.3 1617.8 1439.8 1619.0 1440.3C1620.2 1440.9 1621.4 1441.5 1622.6 1442.1C1623.8 1442.6 1625.0 1443.3 1626.2 1443.8C1627.4 1444.4 1628.6 1445.0 1629.8 1445.5C1631.1 1445.9 1632.3 1446.3 1633.6 1446.6C1634.9 1446.9 1636.2 1447.1 1637.5 1447.4C1638.8 1447.6 1640.1 1447.9 1641.4 1448.2C1642.7 1448.6 1643.9 1449.1 1645.2 1449.6C1646.4 1450.0 1647.6 1450.6 1648.9 1451.1C1650.1 1451.6 1651.3 1452.1 1652.6 1452.5C1653.8 1453.0 1655.1 1453.4 1656.4 1453.8C1657.6 1454.3 1658.9 1454.7 1660.2 1455.1C1661.4 1455.5 1662.7 1455.8 1664.0 1456.1C1665.3 1456.4 1666.6 1456.7 1667.9 1457.0C1669.2 1457.2 1670.5 1457.5 1671.8 1457.7C1673.1 1458.0 1674.5 1458.1 1675.8 1458.3C1677.1 1458.5 1678.4 1458.6 1679.8 1458.8C1681.1 1459.0 1682.4 1459.2 1683.7 1459.4C1685.0 1459.6 1686.3 1459.9 1687.6 1460.2C1688.9 1460.4 1690.2 1460.7 1691.5 1460.9C1692.9 1461.0 1694.2 1461.1 1695.5 1461.2C1696.8 1461.2 1698.2 1461.2 1699.5 1461.0C1700.7 1460.8 1702.0 1460.5 1703.2 1460.0C1704.4 1459.5 1705.6 1458.8 1706.7 1458.1C1707.8 1457.5 1709.0 1456.7 1710.0 1455.9C1711.0 1455.1 1712.0 1454.2 1713.0 1453.3C1713.9 1452.3 1714.8 1451.3 1715.7 1450.3C1716.6 1449.4 1717.5 1448.3 1718.3 1447.3C1719.2 1446.4 1720.1 1445.3 1721.0 1444.4C1721.9 1443.4 1722.9 1442.5 1724.0 1441.8C1725.0 1441.0 1726.2 1440.4 1727.4 1439.9C1728.6 1439.5 1729.9 1439.3 1731.2 1439.1C1732.4 1438.8 1733.8 1438.8 1735.0 1438.5C1736.3 1438.2 1737.5 1437.7 1738.6 1437.0C1739.6 1436.3 1740.7 1435.1 1741.4 1434.4C1742.0 1433.7 1742.2 1433.7 1742.6 1432.8C1743.0 1431.9 1743.5 1430.3 1743.9 1429.0C1744.3 1427.7 1744.7 1426.5 1745.1 1425.2C1745.5 1423.9 1745.8 1422.6 1746.1 1421.3C1746.5 1420.0 1746.8 1418.7 1747.1 1417.4C1747.4 1416.1 1747.7 1414.8 1748.0 1413.5C1748.3 1412.2 1748.5 1410.9 1748.8 1409.6C1749.1 1408.3 1749.4 1407.0 1749.6 1405.7C1749.9 1404.3 1750.1 1403.0 1750.4 1401.7C1750.6 1400.4 1750.9 1399.1 1751.1 1397.8C1751.4 1396.5 1751.6 1395.1 1751.8 1393.8C1752.1 1392.5 1752.3 1391.2 1752.5 1389.9C1752.8 1388.6 1753.0 1387.2 1753.2 1385.9C1753.4 1384.6 1753.6 1383.3 1753.9 1382.0C1754.1 1380.7 1754.3 1379.3 1754.5 1378.0C1754.8 1376.7 1755.0 1375.4 1755.2 1374.1C1755.4 1372.7 1755.7 1371.4 1756.0 1370.1C1756.2 1368.8 1756.6 1367.5 1756.8 1366.2C1757.1 1364.9 1757.4 1363.6 1757.6 1362.3C1757.9 1361.0 1758.1 1359.7 1758.3 1358.3C1758.5 1357.0 1758.7 1355.7 1759.0 1354.4C1759.2 1353.1 1759.4 1351.7 1759.6 1350.4C1759.8 1349.1 1760.1 1347.8 1760.3 1346.5C1760.5 1345.2 1760.7 1343.8 1760.9 1342.5C1761.1 1341.2 1761.4 1339.9 1761.6 1338.6C1761.8 1337.2 1762.0 1335.9 1762.2 1334.6C1762.5 1333.3 1762.7 1332.0 1762.9 1330.6C1763.1 1329.3 1763.3 1328.0 1763.5 1326.7C1763.7 1325.4 1763.9 1324.0 1764.1 1322.7C1764.3 1321.4 1764.4 1320.1 1764.6 1318.7C1764.8 1317.4 1764.9 1316.1 1765.1 1314.8C1765.3 1313.4 1765.4 1312.1 1765.6 1310.8C1765.9 1309.5 1766.1 1308.2 1766.4 1306.8C1766.6 1305.5 1766.9 1304.2 1767.2 1302.9C1767.5 1301.6 1767.8 1300.3 1768.0 1299.0C1768.3 1297.7 1768.6 1296.4 1768.9 1295.1C1769.2 1293.8 1769.4 1292.5 1769.7 1291.2C1770.0 1289.8 1770.3 1288.5 1770.5 1287.2C1770.8 1285.9 1771.1 1284.6 1771.4 1283.3C1771.6 1282.0 1771.9 1280.7 1772.2 1279.4C1772.5 1278.1 1772.7 1276.8 1773.0 1275.5C1773.3 1274.2 1773.6 1272.9 1774.0 1271.6C1774.3 1270.3 1774.6 1269.0 1774.9 1267.7C1775.3 1266.4 1775.6 1265.1 1775.9 1263.8C1776.2 1262.5 1776.6 1261.2 1776.9 1259.9C1777.2 1258.6 1777.4 1257.3 1777.7 1256.0C1778.0 1254.7 1778.3 1253.4 1778.5 1252.0C1778.8 1250.7 1779.1 1249.4 1779.4 1248.1C1779.6 1246.8 1779.9 1245.5 1780.2 1244.2C1780.4 1242.9 1780.7 1241.6 1781.0 1240.3C1781.2 1238.9 1781.5 1237.6 1781.7 1236.3C1782.0 1235.0 1782.3 1233.7 1782.5 1232.4C1782.8 1231.1 1783.0 1229.8 1783.3 1228.4C1783.5 1227.1 1783.8 1225.8 1784.0 1224.5C1784.3 1223.2 1784.5 1221.9 1784.9 1220.6C1785.2 1219.3 1785.6 1218.0 1786.1 1216.8C1786.5 1215.6 1787.0 1214.3 1787.7 1213.2C1788.4 1212.1 1789.3 1210.2 1790.2 1210.2C1791.1 1210.2 1792.1 1212.0 1792.9 1213.1C1793.6 1214.1 1794.1 1215.3 1794.6 1216.6C1795.0 1217.8 1795.4 1219.1 1795.8 1220.3C1796.2 1221.6 1796.6 1222.9 1796.9 1224.2C1797.3 1225.4 1797.5 1226.7 1797.8 1228.0C1798.1 1229.3 1798.4 1230.6 1798.7 1232.0C1799.0 1233.3 1799.2 1234.6 1799.5 1235.9C1799.7 1237.2 1799.9 1238.5 1800.1 1239.8C1800.3 1241.1 1800.5 1242.4 1800.7 1243.8C1800.9 1245.1 1801.1 1246.4 1801.3 1247.7C1801.4 1249.0 1801.6 1250.3 1801.8 1251.7C1802.0 1253.0 1802.2 1254.3 1802.4 1255.6C1802.5 1256.9 1802.7 1258.3 1802.9 1259.6C1803.0 1260.9 1803.2 1262.2 1803.4 1263.5C1803.5 1264.9 1803.7 1266.2 1803.9 1267.5C1804.0 1268.8 1804.2 1270.2 1804.4 1271.5C1804.5 1272.8 1804.7 1274.1 1804.8 1275.4C1805.0 1276.8 1805.2 1278.1 1805.3 1279.4C1805.5 1280.7 1805.6 1282.1 1805.8 1283.4C1805.9 1284.7 1806.1 1286.0 1806.3 1287.3C1806.4 1288.7 1806.6 1290.0 1806.8 1291.3C1806.9 1292.6 1807.1 1293.9 1807.3 1295.3C1807.4 1296.6 1807.6 1297.9 1807.8 1299.2C1808.0 1300.5 1808.1 1301.9 1808.3 1303.2C1808.5 1304.5 1808.8 1305.8 1809.0 1307.1C1809.2 1308.4 1809.4 1309.7 1809.7 1311.1C1809.9 1312.4 1810.1 1313.7 1810.3 1315.0C1810.5 1316.3 1810.7 1317.6 1810.9 1318.9C1811.1 1320.3 1811.3 1321.6 1811.4 1322.9C1811.6 1324.2 1811.8 1325.5 1811.9 1326.9C1812.1 1328.2 1812.3 1329.5 1812.4 1330.8C1812.6 1332.1 1812.8 1333.5 1813.0 1334.8C1813.2 1336.1 1813.4 1337.4 1813.6 1338.7C1813.8 1340.0 1814.1 1341.4 1814.3 1342.7C1814.5 1344.0 1814.7 1345.3 1814.9 1346.6C1815.1 1347.9 1815.3 1349.2 1815.6 1350.6C1815.8 1351.9 1816.0 1353.2 1816.2 1354.5C1816.4 1355.8 1816.7 1357.1 1816.9 1358.4C1817.1 1359.7 1817.3 1361.1 1817.5 1362.4C1817.7 1363.7 1817.9 1365.0 1818.1 1366.3C1818.2 1367.7 1818.4 1369.0 1818.6 1370.3C1818.8 1371.6 1819.1 1372.9 1819.3 1374.2C1819.6 1375.5 1819.9 1376.8 1820.1 1378.1C1820.4 1379.4 1820.7 1380.7 1820.9 1382.0C1821.2 1383.3 1821.5 1384.6 1821.7 1385.9C1822.0 1387.3 1822.3 1388.6 1822.6 1389.9C1822.8 1391.2 1823.2 1392.4 1823.5 1393.7C1823.8 1395.0 1824.2 1396.3 1824.6 1397.6C1825.0 1398.8 1825.4 1400.1 1825.8 1401.4C1826.2 1402.6 1826.7 1403.9 1827.2 1405.1C1827.6 1406.4 1828.1 1407.6 1828.6 1408.9C1829.1 1410.1 1829.6 1411.3 1830.2 1412.5C1830.7 1413.7 1831.3 1414.9 1832.1 1415.9C1832.9 1417.0 1833.8 1418.7 1834.8 1418.8C1835.8 1418.9 1837.0 1417.3 1837.8 1416.4C1838.7 1415.4 1839.3 1414.2 1839.8 1413.0C1840.3 1411.8 1840.6 1410.5 1841.0 1409.2C1841.3 1408.0 1841.5 1406.6 1841.7 1405.3C1841.9 1404.0 1842.1 1402.7 1842.3 1401.4C1842.4 1400.0 1842.6 1398.7 1842.7 1397.4C1842.9 1396.1 1843.1 1394.7 1843.2 1393.4C1843.4 1392.1 1843.5 1390.8 1843.7 1389.5C1843.9 1388.1 1844.0 1386.8 1844.2 1385.5C1844.3 1384.2 1844.5 1382.8 1844.7 1381.5C1844.8 1380.2 1845.0 1378.9 1845.1 1377.5C1845.3 1376.2 1845.4 1374.9 1845.6 1373.6C1845.7 1372.2 1845.9 1370.9 1846.0 1369.6C1846.2 1368.3 1846.3 1366.9 1846.5 1365.6C1846.6 1364.3 1846.8 1362.9 1846.9 1361.6C1847.0 1360.3 1847.1 1359.0 1847.2 1357.6C1847.2 1356.3 1847.3 1355.0 1847.3 1353.6C1847.4 1352.3 1847.4 1351.0 1847.5 1349.6C1847.5 1348.3 1847.6 1347.0 1847.6 1345.6C1847.7 1344.3 1847.7 1343.0 1847.8 1341.6C1847.9 1340.3 1847.9 1339.0 1848.0 1337.6C1848.1 1336.3 1848.2 1335.0 1848.3 1333.7C1848.3 1332.3 1848.4 1331.0 1848.5 1329.7C1848.6 1328.3 1848.7 1327.0 1848.8 1325.7C1848.9 1324.3 1848.9 1323.0 1849.0 1321.7C1849.1 1320.3 1849.2 1319.0 1849.3 1317.7C1849.4 1316.3 1849.5 1315.0 1849.6 1313.7C1849.6 1312.4 1849.7 1311.0 1849.8 1309.7C1849.9 1308.4 1850.0 1307.0 1850.1 1305.7C1850.2 1304.4 1850.3 1303.0 1850.3 1301.7C1850.4 1300.4 1850.5 1299.0 1850.6 1297.7C1850.6 1296.4 1850.7 1295.0 1850.8 1293.7C1850.8 1292.4 1850.9 1291.1 1851.0 1289.7C1851.0 1288.4 1851.1 1287.1 1851.2 1285.7C1851.2 1284.4 1851.3 1283.1 1851.4 1281.7C1851.4 1280.4 1851.5 1279.1 1851.6 1277.7C1851.6 1276.4 1851.7 1275.1 1851.7 1273.7C1851.8 1272.4 1851.8 1271.1 1851.9 1269.7C1851.9 1268.4 1852.0 1267.1 1852.0 1265.7C1852.1 1264.4 1852.2 1263.1 1852.2 1261.7C1852.3 1260.4 1852.3 1259.1 1852.3 1257.7C1852.4 1256.4 1852.4 1255.1 1852.5 1253.7C1852.5 1252.4 1852.6 1251.1 1852.6 1249.7C1852.6 1248.4 1852.7 1247.1 1852.7 1245.7C1852.8 1244.4 1852.8 1243.1 1852.8 1241.7C1852.9 1240.4 1852.9 1239.1 1852.9 1237.7C1852.9 1236.4 1853.0 1235.1 1853.0 1233.7C1853.0 1232.4 1853.0 1231.1 1853.0 1229.7C1853.0 1228.4 1853.1 1227.1 1853.1 1225.7C1853.1 1224.4 1853.1 1223.1 1853.1 1221.7C1853.1 1220.4 1853.2 1219.1 1853.2 1217.7C1853.2 1216.4 1853.2 1215.1 1853.2 1213.7C1853.2 1212.4 1853.3 1211.1 1853.3 1209.7C1853.3 1208.4 1853.3 1207.1 1853.3 1205.7C1853.3 1204.4 1853.4 1203.1 1853.4 1201.7C1853.4 1200.4 1853.4 1199.1 1853.5 1197.7C1853.5 1196.4 1853.5 1195.1 1853.5 1193.7C1853.6 1192.4 1853.6 1191.1 1853.6 1189.7C1853.7 1188.4 1853.7 1187.1 1853.7 1185.7C1853.7 1184.4 1853.8 1183.1 1853.8 1181.7C1853.8 1180.4 1853.9 1179.1 1853.9 1177.7C1853.9 1176.4 1853.9 1175.1 1854.0 1173.7C1854.0 1172.4 1854.0 1171.1 1854.1 1169.7C1854.1 1168.4 1854.1 1167.1 1854.1 1165.7C1854.2 1164.4 1854.2 1163.1 1854.2 1161.7C1854.3 1160.4 1854.3 1159.1 1854.3 1157.7C1854.3 1156.4 1854.4 1155.1 1854.4 1153.7C1854.4 1152.4 1854.5 1151.1 1854.5 1149.7C1854.5 1148.4 1854.5 1147.1 1854.6 1145.7C1854.6 1144.4 1854.6 1143.0 1854.7 1141.7C1854.7 1140.4 1854.7 1139.0 1854.8 1137.7C1854.8 1136.4 1854.8 1135.0 1854.8 1133.7C1854.9 1132.4 1854.9 1131.0 1854.9 1129.7C1855.0 1128.4 1855.0 1127.0 1855.0 1125.7C1855.1 1124.4 1855.1 1123.0 1855.1 1121.7C1855.2 1120.4 1855.2 1119.0 1855.2 1117.7C1855.3 1116.4 1855.3 1115.0 1855.3 1113.7C1855.4 1112.4 1855.4 1111.0 1855.4 1109.7C1855.5 1108.4 1855.5 1107.0 1855.5 1105.7C1855.6 1104.4 1855.6 1103.0 1855.6 1101.7C1855.7 1100.4 1855.7 1099.0 1855.7 1097.7C1855.8 1096.4 1855.8 1095.0 1855.8 1093.7C1855.9 1092.4 1855.9 1091.0 1855.9 1089.7C1856.0 1088.4 1856.0 1087.0 1856.1 1085.7C1856.1 1084.4 1856.1 1083.0 1856.2 1081.7C1856.2 1080.4 1856.2 1079.0 1856.3 1077.7C1856.3 1076.4 1856.3 1075.0 1856.4 1073.7C1856.4 1072.4 1856.4 1071.0 1856.5 1069.7C1856.5 1068.4 1856.5 1067.0 1856.6 1065.7C1856.6 1064.4 1856.6 1063.0 1856.7 1061.7C1856.7 1060.4 1856.7 1059.0 1856.8 1057.7C1856.8 1056.4 1856.8 1055.0 1856.9 1053.7C1856.9 1052.4 1856.9 1051.0 1857.0 1049.7C1857.0 1048.4 1857.0 1047.0 1857.1 1045.7C1857.1 1044.4 1857.1 1043.0 1857.2 1041.7C1857.2 1040.4 1857.2 1039.0 1857.3 1037.7C1857.3 1036.4 1857.3 1035.0 1857.4 1033.7C1857.4 1032.4 1857.4 1031.0 1857.5 1029.7C1857.5 1028.4 1857.5 1027.0 1857.6 1025.7C1857.6 1024.4 1857.6 1023.0 1857.7 1021.7C1857.7 1020.4 1857.8 1019.0 1857.8 1017.7C1857.8 1016.4 1857.9 1015.0 1857.9 1013.7C1857.9 1012.4 1858.0 1011.0 1858.0 1009.7C1858.0 1008.4 1858.0 1007.0 1858.1 1005.7C1858.1 1004.4 1858.1 1003.0 1858.2 1001.7C1858.2 1000.4 1858.2 999.0 1858.3 997.7C1858.3 996.4 1858.3 995.0 1858.4 993.7C1858.4 992.4 1858.4 991.0 1858.5 989.7C1858.5 988.4 1858.5 987.0 1858.6 985.7C1858.6 984.4 1858.6 983.0 1858.7 981.7C1858.7 980.4 1858.7 979.0 1858.7 977.7C1858.8 976.4 1858.8 975.0 1858.8 973.7C1858.9 972.4 1858.9 971.0 1858.9 969.7C1859.0 968.4 1859.0 967.0 1859.0 965.7C1859.1 964.4 1859.1 963.0 1859.1 961.7C1859.2 960.4 1859.2 959.0 1859.2 957.7C1859.3 956.4 1859.3 955.0 1859.3 953.7C1859.4 952.4 1859.4 951.0 1859.4 949.7C1859.5 948.4 1859.5 947.0 1859.5 945.7C1859.6 944.4 1859.6 943.0 1859.6 941.7C1859.7 940.4 1859.7 939.0 1859.7 937.7C1859.8 936.4 1859.8 935.0 1859.8 933.7C1859.9 932.4 1859.9 931.0 1859.9 929.7C1860.0 928.4 1860.0 927.0 1860.0 925.7C1860.1 924.4 1860.1 923.0 1860.1 921.7C1860.2 920.4 1860.2 919.0 1860.2 917.7C1860.3 916.4 1860.3 915.0 1860.3 913.7C1860.4 912.4 1860.4 911.0 1860.4 909.7C1860.5 908.4 1860.5 907.0 1860.5 905.7C1860.6 904.4 1860.6 903.0 1860.6 901.7C1860.7 900.4 1860.7 899.0 1860.7 897.7C1860.8 896.4 1860.8 895.0 1860.8 893.7C1860.8 892.4 1860.8 891.0 1860.8 889.7C1860.9 888.4 1860.9 887.0 1860.9 885.7C1860.9 884.4 1860.9 883.0 1860.9 881.7C1860.9 880.4 1860.9 879.0 1860.9 877.7C1861.0 876.4 1861.0 875.0 1861.0 873.7C1861.0 872.4 1861.0 871.0 1861.0 869.7C1861.0 868.4 1861.0 867.0 1861.0 865.7C1861.1 864.4 1861.1 863.0 1861.1 861.7C1861.1 860.4 1861.1 859.0 1861.1 857.7C1861.1 856.3 1861.1 855.0 1861.1 853.7C1861.2 852.3 1861.2 851.0 1861.2 849.7C1861.2 848.3 1861.2 847.0 1861.2 845.7C1861.2 844.3 1861.2 843.0 1861.2 841.7C1861.3 840.3 1861.3 839.0 1861.3 837.7C1861.3 836.3 1861.3 835.0 1861.3 833.7C1861.3 832.3 1861.3 831.0 1861.3 829.7C1861.4 828.3 1861.4 827.0 1861.4 825.7C1861.4 824.3 1861.4 823.0 1861.4 821.7C1861.4 820.3 1861.5 819.0 1861.5 817.7C1861.5 816.3 1861.5 815.0 1861.6 813.7C1861.6 812.3 1861.6 811.0 1861.7 809.7C1861.7 808.3 1861.7 807.0 1861.7 805.7C1861.8 804.3 1861.8 803.0 1861.8 801.7C1861.8 800.3 1861.9 799.0 1861.9 797.7C1861.9 796.3 1862.0 795.0 1862.0 793.7C1862.0 792.3 1862.0 791.0 1862.1 789.7C1862.1 788.3 1862.1 787.0 1862.1 785.7C1862.2 784.3 1862.2 783.0 1862.2 781.7C1862.3 780.3 1862.3 779.0 1862.3 777.7C1862.3 776.3 1862.4 775.0 1862.4 773.7C1862.4 772.3 1862.4 771.0 1862.5 769.7C1862.5 768.3 1862.5 767.0 1862.6 765.7C1862.6 764.3 1862.6 763.0 1862.6 761.7C1862.7 760.3 1862.7 759.0 1862.7 757.7C1862.7 756.3 1862.8 755.0 1862.8 753.7C1862.8 752.3 1862.9 751.0 1862.9 749.7C1862.9 748.3 1863.0 747.0 1863.0 745.7C1863.0 744.3 1863.1 743.0 1863.1 741.7C1863.1 740.3 1863.2 739.0 1863.2 737.7C1863.2 736.3 1863.3 735.0 1863.3 733.7C1863.4 732.3 1863.4 731.0 1863.4 729.7C1863.5 728.3 1863.5 727.0 1863.5 725.7C1863.6 724.3 1863.6 723.0 1863.7 721.7C1863.7 720.3 1863.7 719.0 1863.8 717.7C1863.8 716.3 1863.8 715.0 1863.9 713.7C1863.9 712.3 1864.0 711.0 1864.0 709.7C1864.0 708.3 1864.1 707.0 1864.1 705.7C1864.1 704.3 1864.2 703.0 1864.2 701.7C1864.3 700.3 1864.3 699.0 1864.3 697.7C1864.4 696.3 1864.4 695.0 1864.4 693.7C1864.5 692.3 1864.5 691.0 1864.5 689.7C1864.6 688.3 1864.6 687.0 1864.6 685.7C1864.7 684.3 1864.7 683.0 1864.8 681.7C1864.8 680.3 1864.8 679.0 1864.9 677.7C1864.9 676.3 1864.9 675.0 1865.0 673.7C1865.0 672.3 1865.0 671.0 1865.1 669.7C1865.1 668.3 1865.1 667.0 1865.2 665.7C1865.2 664.3 1865.3 663.0 1865.3 661.7C1865.3 660.3 1865.4 659.0 1865.4 657.7C1865.4 656.3 1865.5 655.0 1865.5 653.7C1865.5 652.3 1865.6 651.0 1865.6 649.7C1865.6 648.3 1865.7 647.0 1865.7 645.7C1865.7 644.3 1865.8 643.0 1865.8 641.7C1865.8 640.3 1865.8 639.0 1865.9 637.7C1865.9 636.3 1865.9 635.0 1865.9 633.7C1865.9 632.3 1866.0 631.0 1866.0 629.7C1866.0 628.3 1866.0 627.0 1866.0 625.7C1866.1 624.3 1866.1 623.0 1866.1 621.7C1866.1 620.3 1866.1 619.0 1866.2 617.6C1866.2 616.3 1866.2 615.0 1866.2 613.6C1866.2 612.3 1866.3 611.0 1866.3 609.6C1866.3 608.3 1866.3 607.0 1866.3 605.6C1866.4 604.3 1866.4 603.0 1866.4 601.6C1866.4 600.3 1866.4 599.0 1866.5 597.6C1866.5 596.3 1866.5 595.0 1866.5 593.6C1866.5 592.3 1866.6 591.0 1866.6 589.6C1866.6 588.3 1866.6 587.0 1866.6 585.6C1866.6 584.3 1866.7 583.0 1866.7 581.6C1866.7 580.3 1866.7 579.0 1866.8 577.6C1866.8 576.3 1866.8 575.0 1866.8 573.6C1866.9 572.3 1866.9 571.0 1866.9 569.6C1867.0 568.3 1867.0 567.0 1867.0 565.6C1867.0 564.3 1867.1 563.0 1867.1 561.6C1867.1 560.3 1867.2 559.0 1867.2 557.6C1867.2 556.3 1867.2 555.0 1867.3 553.6C1867.3 552.3 1867.3 551.0 1867.3 549.6C1867.4 548.3 1867.4 547.0 1867.4 545.6C1867.5 544.3 1867.5 543.0 1867.5 541.6C1867.5 540.3 1867.6 539.0 1867.6 537.6C1867.6 536.3 1867.6 535.0 1867.7 533.6C1867.7 532.3 1867.7 531.0 1867.8 529.6C1867.8 528.3 1867.8 527.0 1867.8 525.6C1867.9 524.3 1867.9 523.0 1867.9 521.6C1868.0 520.3 1868.0 519.0 1868.0 517.6C1868.0 516.3 1868.1 515.0 1868.1 513.6C1868.1 512.3 1868.2 511.0 1868.2 509.6C1868.3 508.3 1868.3 507.0 1868.3 505.6C1868.4 504.3 1868.4 503.0 1868.5 501.6C1868.5 500.3 1868.6 499.0 1868.6 497.6C1868.6 496.3 1868.7 495.0 1868.7 493.6C1868.8 492.3 1868.8 491.0 1868.9 489.6C1868.9 488.3 1869.0 487.0 1869.0 485.6C1869.0 484.3 1869.1 483.0 1869.1 481.6C1869.2 480.3 1869.2 479.0 1869.3 477.6C1869.3 476.3 1869.3 475.0 1869.4 473.6C1869.4 472.3 1869.5 471.0 1869.5 469.6C1869.6 468.3 1869.6 467.0 1869.6 465.6C1869.7 464.3 1869.7 463.0 1869.8 461.6C1869.8 460.3 1869.9 459.0 1869.9 457.6C1869.9 456.3 1870.0 455.0 1870.0 453.6C1870.1 452.3 1870.1 451.0 1870.2 449.6C1870.2 448.3 1870.2 447.0 1870.3 445.6C1870.3 444.3 1870.3 443.0 1870.4 441.6C1870.4 440.3 1870.4 439.0 1870.4 437.6C1870.5 436.3 1870.5 435.0 1870.5 433.6C1870.6 432.3 1870.6 431.0 1870.6 429.6C1870.7 428.3 1870.7 427.0 1870.7 425.6C1870.7 424.3 1870.8 423.0 1870.8 421.6C1870.8 420.3 1870.9 419.0 1870.9 417.6C1870.9 416.3 1870.9 415.0 1871.0 413.6C1871.0 412.3 1871.0 411.0 1871.1 409.6C1871.1 408.3 1871.1 407.0 1871.2 405.6C1871.2 404.3 1871.2 403.0 1871.2 401.6C1871.3 400.3 1871.3 399.0 1871.3 397.6C1871.4 396.3 1871.4 395.0 1871.4 393.6C1871.4 392.3 1871.5 391.0 1871.5 389.6C1871.5 388.3 1871.6 387.0 1871.6 385.6C1871.6 384.3 1871.7 383.0 1871.7 381.6C1871.7 380.3 1871.8 379.0 1871.8 377.6C1871.8 376.3 1871.9 375.0 1871.9 373.6C1872.0 372.3 1872.0 371.0 1872.0 369.6C1872.1 368.3 1872.1 367.0 1872.2 365.6C1872.2 364.3 1872.2 363.0 1872.3 361.6C1872.3 360.3 1872.4 359.0 1872.4 357.6C1872.4 356.3 1872.5 355.0 1872.5 353.6C1872.5 352.3 1872.6 351.0 1872.6 349.6C1872.7 348.3 1872.7 347.0 1872.7 345.6C1872.8 344.3 1872.8 343.0 1872.9 341.6C1872.9 340.3 1872.9 339.0 1873.0 337.6C1873.0 336.3 1873.1 335.0 1873.1 333.6C1873.1 332.3 1873.2 331.0 1873.2 329.6C1873.3 328.3 1873.3 327.0 1873.3 325.6C1873.4 324.3 1873.4 323.0 1873.5 321.6C1873.5 320.3 1873.5 319.0 1873.6 317.6C1873.6 316.3 1873.7 315.0 1873.7 313.6C1873.7 312.3 1873.8 311.0 1873.8 309.6C1873.9 308.3 1873.9 307.0 1874.0 305.6C1874.0 304.3 1874.1 303.0 1874.1 301.6C1874.2 300.3 1874.2 299.0 1874.3 297.6C1874.3 296.3 1874.4 295.0 1874.4 293.6C1874.5 292.3 1874.5 291.0 1874.6 289.6C1874.6 288.3 1874.7 287.0 1874.7 285.6C1874.8 284.3 1874.8 283.0 1874.9 281.6C1874.9 280.3 1875.0 279.0 1875.0 277.6C1875.1 276.3 1875.1 275.0 1875.2 273.6C1875.2 272.3 1875.3 271.0 1875.3 269.6C1875.4 268.3 1875.4 267.0 1875.5 265.6C1875.5 264.3 1875.6 263.0 1875.6 261.6C1875.7 260.3 1875.7 259.0 1875.8 257.6C1875.8 256.3 1875.9 255.0 1875.9 253.6C1876.0 252.3 1876.0 251.0 1876.1 249.6C1876.1 248.3 1876.2 247.0 1876.2 245.7C1876.3 244.3 1876.3 243.0 1876.4 241.7C1876.5 240.3 1876.5 239.0 1876.6 237.7C1876.6 236.3 1876.7 235.0 1876.7 233.7C1876.8 232.3 1876.9 231.0 1876.9 229.7C1877.0 228.3 1877.0 227.0 1877.1 225.7C1877.1 224.3 1877.2 223.0 1877.3 221.7C1877.3 220.3 1877.4 219.0 1877.4 217.7C1877.5 216.3 1877.5 215.0 1877.6 213.7C1877.6 212.3 1877.7 211.0 1877.8 209.7C1877.8 208.3 1877.9 207.0 1877.9 205.7C1878.0 204.3 1878.0 203.0 1878.1 201.7C1878.2 200.3 1878.2 199.0 1878.3 197.7C1878.4 196.3 1878.5 195.0 1878.6 193.7C1878.7 192.4 1878.8 191.0 1878.9 189.7C1879.0 188.4 1879.1 187.0 1879.2 185.7C1879.3 184.4 1879.4 183.0 1879.5 181.7C1879.6 180.4 1879.6 179.1 1879.7 177.7C1879.8 176.4 1879.8 175.1 1879.9 173.7C1880.0 172.4 1880.0 171.1 1880.1 169.7C1880.1 168.4 1880.2 167.1 1880.3 165.7C1880.3 164.4 1880.4 163.1 1880.5 161.7C1880.5 160.4 1880.6 159.1 1880.6 157.7C1880.7 156.4 1880.7 155.1 1880.8 153.7C1880.8 152.4 1880.9 151.1 1881.0 149.7C1881.0 148.4 1881.1 147.1 1881.1 145.7C1881.2 144.4 1881.3 143.1 1881.3 141.7C1881.4 140.4 1881.5 139.1 1881.6 137.7C1881.6 136.4 1881.7 135.1 1881.8 133.8C1881.9 132.4 1882.0 131.1 1882.0 129.8C1882.1 128.4 1882.2 127.1 1882.3 125.8C1882.4 124.4 1882.5 123.1 1882.5 121.8C1882.6 120.4 1882.7 119.1 1882.8 117.8C1882.9 116.5 1883.0 115.1 1883.1 113.8C1883.2 112.5 1883.3 111.1 1883.4 109.8C1883.5 108.5 1883.6 107.1 1883.8 105.8C1883.9 104.5 1884.0 103.2 1884.1 101.8C1884.3 100.5 1884.4 99.2 1884.5 97.8C1884.7 96.5 1884.8 95.2 1884.9 93.9C1885.1 92.5 1885.2 91.2 1885.3 89.9C1885.5 88.6 1885.6 87.2 1885.8 85.9C1886.0 84.6 1886.2 83.3 1886.4 81.9C1886.5 80.6 1886.7 79.3 1886.9 78.0C1887.1 76.7 1887.3 75.3 1887.5 74.0C1887.7 72.7 1887.9 71.4 1888.1 70.1C1888.3 68.8 1888.5 67.4 1888.7 66.1C1889.0 64.8 1889.2 63.5 1889.5 62.2C1889.7 60.9 1890.0 59.6 1890.4 58.3C1890.7 57.0 1891.2 54.5 1891.6 54.5C1892.0 54.5 1892.3 57.1 1892.6 58.4C1892.9 59.7 1893.2 61.0 1893.4 62.3C1893.7 63.6 1893.9 64.9 1894.1 66.2C1894.2 67.5 1894.4 68.9 1894.6 70.2C1894.8 71.5 1894.9 72.8 1895.1 74.2C1895.3 75.5 1895.4 76.8 1895.6 78.1C1895.7 79.5 1895.9 80.8 1896.0 82.1C1896.1 83.4 1896.3 84.8 1896.4 86.1C1896.5 87.4 1896.6 88.7 1896.8 90.1C1896.9 91.4 1897.0 92.7 1897.1 94.1C1897.3 95.4 1897.4 96.7 1897.5 98.0C1897.6 99.4 1897.7 100.7 1897.8 102.0C1897.9 103.4 1898.0 104.7 1898.1 106.0C1898.2 107.3 1898.3 108.7 1898.4 110.0C1898.6 111.3 1898.7 112.7 1898.8 114.0C1898.9 115.3 1899.0 116.6 1899.0 118.0C1899.1 119.3 1899.2 120.6 1899.3 122.0C1899.4 123.3 1899.5 124.6 1899.6 126.0C1899.6 127.3 1899.7 128.6 1899.8 130.0C1899.9 131.3 1900.0 132.6 1900.0 133.9C1900.1 135.3 1900.2 136.6 1900.3 137.9C1900.3 139.3 1900.4 140.6 1900.4 141.9C1900.5 143.3 1900.6 144.6 1900.6 145.9C1900.7 147.3 1900.8 148.6 1900.8 149.9C1900.9 151.3 1900.9 152.6 1901.0 153.9C1901.0 155.3 1901.1 156.6 1901.1 157.9C1901.2 159.3 1901.2 160.6 1901.2 161.9C1901.3 163.3 1901.3 164.6 1901.3 165.9C1901.4 167.3 1901.4 168.6 1901.4 169.9C1901.5 171.3 1901.5 172.6 1901.5 173.9C1901.6 175.2 1901.6 176.6 1901.6 177.9C1901.7 179.2 1901.7 180.6 1901.7 181.9C1901.8 183.2 1901.8 184.6 1901.9 185.9C1901.9 187.2 1901.9 188.6 1902.0 189.9C1902.0 191.2 1902.0 192.6 1902.0 193.9C1902.1 195.2 1902.1 196.6 1902.1 197.9C1902.2 199.2 1902.2 200.6 1902.2 201.9C1902.2 203.2 1902.3 204.6 1902.3 205.9C1902.3 207.2 1902.3 208.6 1902.4 209.9C1902.4 211.2 1902.4 212.6 1902.4 213.9C1902.5 215.2 1902.5 216.6 1902.5 217.9C1902.5 219.2 1902.6 220.6 1902.6 221.9C1902.6 223.2 1902.6 224.6 1902.7 225.9C1902.7 227.2 1902.7 228.6 1902.7 229.9C1902.8 231.2 1902.8 232.6 1902.8 233.9C1902.8 235.2 1902.9 236.6 1902.9 237.9C1902.9 239.2 1902.9 240.6 1903.0 241.9C1903.0 243.2 1903.0 244.6 1903.0 245.9C1903.1 247.2 1903.1 248.6 1903.2 249.9C1903.2 251.2 1903.2 252.6 1903.3 253.9C1903.3 255.2 1903.4 256.6 1903.4 257.9C1903.5 259.2 1903.5 260.6 1903.6 261.9C1903.6 263.2 1903.7 264.6 1903.7 265.9C1903.8 267.2 1903.8 268.6 1903.9 269.9C1903.9 271.2 1904.0 272.6 1904.0 273.9C1904.1 275.2 1904.1 276.6 1904.2 277.9C1904.2 279.2 1904.3 280.5 1904.3 281.9C1904.4 283.2 1904.4 284.5 1904.5 285.9C1904.5 287.2 1904.6 288.5 1904.6 289.9C1904.7 291.2 1904.7 292.5 1904.8 293.9C1904.8 295.2 1904.9 296.5 1904.9 297.9C1905.0 299.2 1905.0 300.5 1905.1 301.9C1905.1 303.2 1905.2 304.5 1905.2 305.9C1905.3 307.2 1905.3 308.5 1905.4 309.9C1905.4 311.2 1905.5 312.5 1905.5 313.9C1905.6 315.2 1905.6 316.5 1905.7 317.9C1905.7 319.2 1905.7 320.5 1905.8 321.9C1905.8 323.2 1905.9 324.5 1905.9 325.9C1906.0 327.2 1906.0 328.5 1906.1 329.8C1906.1 331.2 1906.2 332.5 1906.2 333.8C1906.2 335.2 1906.3 336.5 1906.3 337.8C1906.4 339.2 1906.4 340.5 1906.5 341.8C1906.5 343.2 1906.6 344.5 1906.6 345.8C1906.6 347.2 1906.7 348.5 1906.7 349.8C1906.8 351.2 1906.8 352.5 1906.9 353.8C1906.9 355.2 1907.0 356.5 1907.0 357.8C1907.1 359.2 1907.1 360.5 1907.1 361.8C1907.2 363.2 1907.2 364.5 1907.3 365.8C1907.3 367.2 1907.4 368.5 1907.4 369.8C1907.5 371.2 1907.5 372.5 1907.6 373.8C1907.6 375.2 1907.6 376.5 1907.7 377.8C1907.7 379.2 1907.8 380.5 1907.8 381.8C1907.9 383.2 1907.9 384.5 1907.9 385.8C1908.0 387.2 1908.0 388.5 1908.0 389.8C1908.1 391.2 1908.1 392.5 1908.1 393.8C1908.2 395.2 1908.2 396.5 1908.2 397.8C1908.3 399.1 1908.3 400.5 1908.4 401.8C1908.4 403.1 1908.4 404.5 1908.5 405.8C1908.5 407.1 1908.5 408.5 1908.6 409.8C1908.6 411.1 1908.6 412.5 1908.7 413.8C1908.7 415.1 1908.7 416.5 1908.8 417.8C1908.8 419.1 1908.9 420.5 1908.9 421.8C1908.9 423.1 1909.0 424.5 1909.0 425.8C1909.0 427.1 1909.1 428.5 1909.1 429.8C1909.1 431.1 1909.2 432.5 1909.2 433.8C1909.2 435.1 1909.3 436.5 1909.3 437.8C1909.3 439.1 1909.4 440.5 1909.4 441.8C1909.5 443.1 1909.5 444.5 1909.5 445.8C1909.6 447.1 1909.6 448.5 1909.6 449.8C1909.7 451.1 1909.7 452.5 1909.7 453.8C1909.8 455.1 1909.8 456.5 1909.8 457.8C1909.9 459.1 1909.9 460.5 1909.9 461.8C1910.0 463.1 1910.0 464.5 1910.1 465.8C1910.1 467.1 1910.1 468.5 1910.2 469.8C1910.2 471.1 1910.2 472.5 1910.3 473.8C1910.3 475.1 1910.3 476.5 1910.4 477.8C1910.4 479.1 1910.4 480.5 1910.5 481.8C1910.5 483.1 1910.5 484.5 1910.6 485.8C1910.6 487.1 1910.6 488.5 1910.7 489.8C1910.7 491.1 1910.8 492.5 1910.8 493.8C1910.8 495.1 1910.9 496.5 1910.9 497.8C1910.9 499.1 1911.0 500.4 1911.0 501.8C1911.0 503.1 1911.1 504.4 1911.1 505.8C1911.1 507.1 1911.2 508.4 1911.2 509.8C1911.2 511.1 1911.3 512.4 1911.3 513.8C1911.4 515.1 1911.4 516.4 1911.4 517.8C1911.5 519.1 1911.5 520.4 1911.5 521.8C1911.6 523.1 1911.6 524.4 1911.6 525.8C1911.7 527.1 1911.7 528.4 1911.7 529.8C1911.8 531.1 1911.8 532.4 1911.8 533.8C1911.9 535.1 1911.9 536.4 1912.0 537.8C1912.0 539.1 1912.0 540.4 1912.1 541.8C1912.1 543.1 1912.1 544.4 1912.2 545.8C1912.2 547.1 1912.2 548.4 1912.3 549.8C1912.3 551.1 1912.3 552.4 1912.4 553.8C1912.4 555.1 1912.5 556.4 1912.5 557.8C1912.5 559.1 1912.6 560.4 1912.6 561.8C1912.6 563.1 1912.7 564.4 1912.7 565.8C1912.7 567.1 1912.8 568.4 1912.8 569.8C1912.8 571.1 1912.9 572.4 1912.9 573.8C1912.9 575.1 1913.0 576.4 1913.0 577.8C1913.1 579.1 1913.1 580.4 1913.1 581.8C1913.2 583.1 1913.2 584.4 1913.2 585.8C1913.3 587.1 1913.3 588.4 1913.3 589.8C1913.4 591.1 1913.4 592.4 1913.4 593.8C1913.4 595.1 1913.5 596.4 1913.5 597.8C1913.5 599.1 1913.6 600.4 1913.6 601.8C1913.6 603.1 1913.7 604.4 1913.7 605.8C1913.7 607.1 1913.8 608.4 1913.8 609.7C1913.8 611.1 1913.9 612.4 1913.9 613.7C1913.9 615.1 1914.0 616.4 1914.0 617.7C1914.0 619.1 1914.1 620.4 1914.1 621.7C1914.1 623.1 1914.2 624.4 1914.2 625.7C1914.2 627.1 1914.3 628.4 1914.3 629.7C1914.3 631.1 1914.4 632.4 1914.4 633.7C1914.4 635.1 1914.5 636.4 1914.5 637.7C1914.5 639.1 1914.5 640.4 1914.6 641.7C1914.6 643.1 1914.7 644.4 1914.7 645.7C1914.7 647.1 1914.8 648.4 1914.8 649.7C1914.8 651.1 1914.9 652.4 1914.9 653.7C1914.9 655.1 1915.0 656.4 1915.0 657.7C1915.0 659.1 1915.1 660.4 1915.1 661.7C1915.1 663.1 1915.2 664.4 1915.2 665.7C1915.3 667.1 1915.3 668.4 1915.3 669.7C1915.4 671.1 1915.4 672.4 1915.4 673.7C1915.5 675.1 1915.5 676.4 1915.5 677.7C1915.6 679.1 1915.6 680.4 1915.6 681.7C1915.7 683.1 1915.7 684.4 1915.8 685.7C1915.8 687.1 1915.8 688.4 1915.9 689.7C1915.9 691.1 1915.9 692.4 1916.0 693.7C1916.0 695.1 1916.0 696.4 1916.1 697.7C1916.1 699.1 1916.2 700.4 1916.2 701.7C1916.3 703.1 1916.3 704.4 1916.4 705.7C1916.4 707.1 1916.4 708.4 1916.5 709.7C1916.5 711.0 1916.6 712.4 1916.6 713.7C1916.7 715.0 1916.7 716.4 1916.8 717.7C1916.8 719.0 1916.8 720.4 1916.9 721.7C1916.9 723.0 1917.0 724.4 1917.0 725.7C1917.1 727.0 1917.1 728.4 1917.2 729.7C1917.2 731.0 1917.3 732.4 1917.3 733.7C1917.3 735.0 1917.4 736.4 1917.4 737.7C1917.5 739.0 1917.5 740.4 1917.6 741.7C1917.6 743.0 1917.7 744.4 1917.7 745.7C1917.7 747.0 1917.8 748.4 1917.8 749.7C1917.9 751.0 1917.9 752.4 1917.9 753.7C1918.0 755.0 1918.0 756.4 1918.1 757.7C1918.1 759.0 1918.1 760.4 1918.2 761.7C1918.2 763.0 1918.2 764.4 1918.3 765.7C1918.3 767.0 1918.4 768.4 1918.4 769.7C1918.4 771.0 1918.5 772.4 1918.5 773.7C1918.6 775.0 1918.6 776.4 1918.6 777.7C1918.7 779.0 1918.7 780.3 1918.7 781.7C1918.8 783.0 1918.8 784.3 1918.9 785.7C1918.9 787.0 1918.9 788.3 1919.0 789.7C1919.0 791.0 1919.0 792.3 1919.1 793.7C1919.1 795.0 1919.2 796.3 1919.2 797.7C1919.2 799.0 1919.3 800.3 1919.3 801.7C1919.4 803.0 1919.4 804.3 1919.4 805.7C1919.5 807.0 1919.5 808.3 1919.5 809.7C1919.6 811.0 1919.6 812.3 1919.7 813.7C1919.7 815.0 1919.7 816.3 1919.8 817.7C1919.8 819.0 1919.8 820.3 1919.9 821.7C1919.9 823.0 1919.9 824.3 1920.0 825.7C1920.0 827.0 1920.0 828.3 1920.1 829.7C1920.1 831.0 1920.1 832.3 1920.2 833.7C1920.2 835.0 1920.2 836.3 1920.3 837.7C1920.3 839.0 1920.3 840.3 1920.4 841.7C1920.4 843.0 1920.4 844.3 1920.4 845.7C1920.5 847.0 1920.5 848.3 1920.5 849.7C1920.6 851.0 1920.6 852.3 1920.6 853.7C1920.7 855.0 1920.7 856.3 1920.7 857.7C1920.8 859.0 1920.8 860.3 1920.8 861.7C1920.8 863.0 1920.9 864.3 1920.9 865.7C1920.9 867.0 1921.0 868.3 1921.0 869.7C1921.0 871.0 1921.1 872.3 1921.1 873.7C1921.1 875.0 1921.2 876.3 1921.2 877.7C1921.2 879.0 1921.2 880.3 1921.3 881.7C1921.3 883.0 1921.3 884.3 1921.4 885.7C1921.4 887.0 1921.4 888.3 1921.5 889.7C1921.5 891.0 1921.5 892.3 1921.6 893.6C1921.6 895.0 1921.6 896.3 1921.7 897.6C1921.7 899.0 1921.8 900.3 1921.8 901.6C1921.9 903.0 1921.9 904.3 1922.0 905.6C1922.0 907.0 1922.1 908.3 1922.1 909.6C1922.1 911.0 1922.2 912.3 1922.2 913.6C1922.3 915.0 1922.3 916.3 1922.4 917.6C1922.4 919.0 1922.5 920.3 1922.5 921.6C1922.6 923.0 1922.6 924.3 1922.7 925.6C1922.7 927.0 1922.8 928.3 1922.8 929.6C1922.9 931.0 1922.9 932.3 1923.0 933.6C1923.0 935.0 1923.0 936.3 1923.1 937.6C1923.1 939.0 1923.2 940.3 1923.2 941.6C1923.3 943.0 1923.3 944.3 1923.4 945.6C1923.4 947.0 1923.5 948.3 1923.5 949.6C1923.6 950.9 1923.6 952.3 1923.7 953.6C1923.7 954.9 1923.8 956.3 1923.8 957.6C1923.9 958.9 1923.9 960.3 1924.0 961.6C1924.0 962.9 1924.1 964.3 1924.1 965.6C1924.2 966.9 1924.2 968.3 1924.3 969.6C1924.3 970.9 1924.4 972.3 1924.4 973.6C1924.5 974.9 1924.6 976.3 1924.6 977.6C1924.7 978.9 1924.7 980.3 1924.8 981.6C1924.8 982.9 1924.9 984.3 1924.9 985.6C1925.0 986.9 1925.0 988.3 1925.1 989.6C1925.1 990.9 1925.2 992.3 1925.2 993.6C1925.3 994.9 1925.3 996.2 1925.4 997.6C1925.4 998.9 1925.5 1000.2 1925.5 1001.6C1925.6 1002.9 1925.6 1004.2 1925.7 1005.6C1925.8 1006.9 1925.8 1008.2 1925.9 1009.6C1925.9 1010.9 1926.0 1012.2 1926.0 1013.6C1926.1 1014.9 1926.1 1016.2 1926.2 1017.6C1926.2 1018.9 1926.3 1020.2 1926.3 1021.6C1926.4 1022.9 1926.5 1024.2 1926.5 1025.6C1926.6 1026.9 1926.6 1028.2 1926.7 1029.6C1926.7 1030.9 1926.8 1032.2 1926.8 1033.6C1926.9 1034.9 1926.9 1036.2 1927.0 1037.5C1927.0 1038.9 1927.1 1040.2 1927.2 1041.5C1927.2 1042.9 1927.3 1044.2 1927.3 1045.5C1927.4 1046.9 1927.4 1048.2 1927.5 1049.5C1927.5 1050.9 1927.6 1052.2 1927.6 1053.5C1927.7 1054.9 1927.8 1056.2 1927.8 1057.5C1927.9 1058.9 1927.9 1060.2 1928.0 1061.5C1928.0 1062.9 1928.1 1064.2 1928.1 1065.5C1928.2 1066.9 1928.2 1068.2 1928.3 1069.5C1928.4 1070.9 1928.4 1072.2 1928.5 1073.5C1928.5 1074.9 1928.6 1076.2 1928.7 1077.5C1928.7 1078.8 1928.8 1080.2 1928.9 1081.5C1928.9 1082.8 1929.0 1084.2 1929.1 1085.5C1929.1 1086.8 1929.2 1088.2 1929.3 1089.5C1929.3 1090.8 1929.4 1092.2 1929.5 1093.5C1929.5 1094.8 1929.6 1096.2 1929.7 1097.5C1929.7 1098.8 1929.8 1100.2 1929.9 1101.5C1929.9 1102.8 1930.0 1104.2 1930.1 1105.5C1930.1 1106.8 1930.2 1108.1 1930.2 1109.5C1930.3 1110.8 1930.4 1112.1 1930.4 1113.5C1930.5 1114.8 1930.6 1116.1 1930.6 1117.5C1930.7 1118.8 1930.8 1120.1 1930.8 1121.5C1930.9 1122.8 1931.0 1124.1 1931.0 1125.5C1931.1 1126.8 1931.2 1128.1 1931.2 1129.5C1931.3 1130.8 1931.4 1132.1 1931.5 1133.4C1931.6 1134.8 1931.7 1136.1 1931.8 1137.4C1931.8 1138.8 1931.9 1140.1 1932.0 1141.4C1932.1 1142.8 1932.2 1144.1 1932.3 1145.4C1932.4 1146.7 1932.5 1148.1 1932.6 1149.4C1932.7 1150.7 1932.8 1152.1 1932.9 1153.4C1933.0 1154.7 1933.0 1156.1 1933.1 1157.4C1933.2 1158.7 1933.3 1160.1 1933.4 1161.4C1933.5 1162.7 1933.6 1164.0 1933.7 1165.4C1933.8 1166.7 1933.9 1168.0 1934.0 1169.4C1934.1 1170.7 1934.1 1172.0 1934.2 1173.4C1934.3 1174.7 1934.4 1176.0 1934.5 1177.3C1934.6 1178.7 1934.7 1180.0 1934.8 1181.3C1934.9 1182.7 1935.0 1184.0 1935.0 1185.3C1935.1 1186.7 1935.2 1188.0 1935.3 1189.3C1935.4 1190.6 1935.5 1192.0 1935.6 1193.3C1935.7 1194.6 1935.7 1196.0 1935.8 1197.3C1935.9 1198.6 1936.0 1200.0 1936.1 1201.3C1936.2 1202.6 1936.3 1204.0 1936.4 1205.3C1936.4 1206.6 1936.5 1207.9 1936.6 1209.3C1936.7 1210.6 1936.8 1211.9 1936.9 1213.3C1937.0 1214.6 1937.0 1215.9 1937.1 1217.3C1937.2 1218.6 1937.3 1219.9 1937.4 1221.2C1937.5 1222.6 1937.6 1223.9 1937.7 1225.2C1937.8 1226.6 1937.9 1227.9 1938.0 1229.2C1938.1 1230.6 1938.2 1231.9 1938.2 1233.2C1938.3 1234.5 1938.4 1235.9 1938.5 1237.2C1938.6 1238.5 1938.7 1239.9 1938.8 1241.2C1938.9 1242.5 1938.9 1243.9 1939.0 1245.2C1939.1 1246.5 1939.2 1247.9 1939.3 1249.2C1939.3 1250.5 1939.4 1251.9 1939.5 1253.2C1939.6 1254.5 1939.6 1255.8 1939.7 1257.2C1939.8 1258.5 1939.9 1259.8 1940.0 1261.2C1940.0 1262.5 1940.1 1263.8 1940.3 1265.2C1940.4 1266.5 1940.5 1267.8 1940.6 1269.1C1940.7 1270.5 1940.8 1271.8 1940.9 1273.1C1941.0 1274.5 1941.1 1275.8 1941.3 1277.1C1941.4 1278.4 1941.5 1279.8 1941.6 1281.1C1941.7 1282.4 1941.8 1283.8 1941.9 1285.1C1942.0 1286.4 1942.1 1287.7 1942.3 1289.1C1942.4 1290.4 1942.5 1291.7 1942.6 1293.1C1942.7 1294.4 1942.8 1295.7 1942.9 1297.0C1943.0 1298.4 1943.1 1299.7 1943.3 1301.0C1943.4 1302.4 1943.5 1303.7 1943.6 1305.0C1943.7 1306.3 1943.8 1307.7 1943.9 1309.0C1944.1 1310.3 1944.2 1311.7 1944.4 1313.0C1944.5 1314.3 1944.7 1315.6 1944.8 1317.0C1945.0 1318.3 1945.1 1319.6 1945.3 1320.9C1945.4 1322.3 1945.6 1323.6 1945.7 1324.9C1945.9 1326.2 1946.0 1327.6 1946.2 1328.9C1946.3 1330.2 1946.5 1331.5 1946.7 1332.8C1946.8 1334.2 1947.0 1335.5 1947.1 1336.8C1947.3 1338.1 1947.4 1339.5 1947.6 1340.8C1947.8 1342.1 1947.9 1343.4 1948.1 1344.8C1948.2 1346.1 1948.4 1347.4 1948.6 1348.7C1948.7 1350.1 1948.9 1351.4 1949.0 1352.7C1949.2 1354.0 1949.3 1355.4 1949.5 1356.7C1949.6 1358.0 1949.8 1359.3 1949.9 1360.7C1950.1 1362.0 1950.2 1363.3 1950.4 1364.6C1950.5 1366.0 1950.7 1367.3 1950.9 1368.6C1951.0 1369.9 1951.2 1371.2 1951.4 1372.6C1951.6 1373.9 1951.8 1375.2 1952.0 1376.5C1952.2 1377.8 1952.4 1379.2 1952.6 1380.5C1952.8 1381.8 1953.0 1383.1 1953.2 1384.4C1953.4 1385.8 1953.6 1387.1 1953.8 1388.4C1954.0 1389.7 1954.2 1391.0 1954.4 1392.3C1954.6 1393.7 1954.8 1395.0 1955.0 1396.3C1955.2 1397.6 1955.5 1398.9 1955.7 1400.2C1955.9 1401.6 1956.1 1402.9 1956.3 1404.2C1956.6 1405.5 1956.8 1406.8 1957.1 1408.1C1957.3 1409.4 1957.5 1410.7 1957.8 1412.0C1958.0 1413.4 1958.3 1414.7 1958.5 1416.0C1958.8 1417.3 1959.0 1418.6 1959.3 1419.9C1959.5 1421.2 1959.8 1422.5 1960.1 1423.8C1960.3 1425.1 1960.6 1426.4 1960.9 1427.8C1961.1 1429.1 1961.4 1430.4 1961.7 1431.7C1962.0 1433.0 1962.3 1434.3 1962.7 1435.5C1963.0 1436.8 1963.4 1438.1 1963.7 1439.4C1964.1 1440.7 1964.4 1442.0 1964.8 1443.3C1965.1 1444.5 1965.5 1445.8 1965.9 1447.1C1966.2 1448.4 1966.6 1449.7 1967.0 1450.9C1967.4 1452.2 1967.8 1453.5 1968.3 1454.7C1968.8 1455.9 1969.3 1457.2 1969.9 1458.4C1970.4 1459.6 1970.9 1460.8 1971.4 1462.1C1972.0 1463.3 1972.5 1464.5 1973.0 1465.7C1973.5 1467.0 1974.1 1468.2 1974.6 1469.4C1975.2 1470.6 1975.8 1471.8 1976.4 1473.0C1977.0 1474.2 1977.6 1475.4 1978.2 1476.6C1978.8 1477.8 1979.4 1478.9 1980.1 1480.1C1980.8 1481.2 1981.4 1482.4 1982.2 1483.5C1982.9 1484.6 1983.6 1485.8 1984.4 1486.8C1985.1 1487.9 1985.9 1489.0 1986.8 1490.0C1987.6 1491.0 1988.5 1492.0 1989.5 1492.9C1990.5 1493.8 1991.5 1494.7 1992.6 1495.3C1993.7 1496.0 1994.9 1496.6 1996.1 1496.7C1997.3 1496.9 1998.6 1496.8 1999.7 1496.4C2000.9 1496.1 2002.1 1495.4 2003.1 1494.6C2004.2 1493.9 2005.2 1492.9 2006.0 1492.0C2006.9 1491.0 2007.6 1489.9 2008.2 1488.7C2008.9 1487.6 2009.4 1486.4 2010.1 1485.2C2010.8 1484.1 2011.6 1483.1 2012.3 1482.0C2013.0 1480.9 2013.8 1479.8 2014.4 1478.7C2015.1 1477.5 2015.6 1476.3 2016.1 1475.1C2016.7 1473.9 2017.2 1472.6 2017.8 1471.4C2018.4 1470.3 2019.1 1469.1 2019.8 1468.0C2020.5 1466.8 2021.2 1465.7 2022.1 1464.7C2022.9 1463.7 2024.1 1462.6 2024.9 1462.0C2025.6 1461.3 2025.7 1460.6 2026.5 1460.8C2027.3 1461.0 2028.6 1462.4 2029.5 1463.3C2030.4 1464.3 2031.0 1465.4 2031.9 1466.4C2032.7 1467.4 2033.6 1468.4 2034.4 1469.3C2035.3 1470.3 2036.1 1471.3 2036.8 1472.4C2037.4 1473.5 2037.8 1474.8 2038.4 1475.9C2039.0 1477.1 2039.6 1478.3 2040.3 1479.4C2040.9 1480.6 2041.7 1481.7 2042.3 1482.8C2043.0 1484.0 2043.5 1485.2 2044.1 1486.4C2044.7 1487.6 2045.2 1488.8 2045.8 1490.0C2046.5 1491.2 2047.1 1492.3 2047.8 1493.5C2048.5 1494.6 2049.1 1495.8 2049.8 1496.9C2050.5 1498.1 2051.2 1499.2 2051.9 1500.3C2052.7 1501.5 2053.4 1502.6 2054.2 1503.6C2055.0 1504.7 2055.8 1505.8 2056.6 1506.8C2057.5 1507.8 2058.3 1508.9 2059.3 1509.8C2060.2 1510.8 2061.1 1511.7 2062.1 1512.6C2063.1 1513.6 2064.1 1514.4 2065.0 1515.4C2066.0 1516.3 2066.8 1517.3 2067.8 1518.3C2068.7 1519.2 2069.6 1520.2 2070.6 1521.1C2071.6 1521.9 2072.7 1522.7 2073.8 1523.5C2074.9 1524.3 2076.0 1525.0 2077.1 1525.8C2078.2 1526.6 2079.3 1527.3 2080.3 1528.1C2081.4 1528.9 2082.4 1529.8 2083.4 1530.6C2084.4 1531.5 2085.4 1532.4 2086.4 1533.3C2087.5 1534.1 2088.5 1534.9 2089.6 1535.6C2090.7 1536.4 2091.9 1537.2 2093.0 1537.7C2094.2 1538.3 2095.4 1538.8 2096.6 1538.9C2097.8 1539.1 2099.1 1538.7 2100.3 1538.7C2101.6 1538.7 2102.9 1538.7 2104.1 1538.9C2105.4 1539.1 2106.7 1539.6 2108.0 1539.8C2109.3 1540.1 2110.6 1540.4 2111.9 1540.5C2113.2 1540.5 2114.5 1540.5 2115.8 1540.3C2117.1 1540.0 2118.3 1539.4 2119.5 1539.1C2120.8 1538.8 2122.0 1538.6 2123.3 1538.5C2124.5 1538.4 2125.8 1538.8 2127.1 1538.6C2128.4 1538.5 2129.6 1538.1 2130.8 1537.8C2132.1 1537.4 2133.3 1536.8 2134.6 1536.5C2135.8 1536.2 2137.2 1536.1 2138.5 1536.0C2139.8 1535.9 2141.2 1536.1 2142.4 1535.9C2143.6 1535.7 2144.9 1535.5 2146.0 1535.0C2147.1 1534.5 2148.3 1533.3 2149.0 1532.7C2149.8 1532.0 2149.9 1532.1 2150.5 1531.3C2151.1 1530.5 2151.9 1529.1 2152.6 1527.9C2153.3 1526.8 2154.0 1525.7 2154.7 1524.5C2155.3 1523.4 2155.9 1522.2 2156.5 1521.0C2157.1 1519.8 2157.6 1518.6 2158.2 1517.4C2158.7 1516.1 2159.2 1514.9 2159.6 1513.7C2160.1 1512.4 2160.5 1511.2 2160.9 1509.9C2161.3 1508.6 2161.7 1507.3 2162.0 1506.1C2162.3 1504.8 2162.5 1503.5 2162.8 1502.2C2163.0 1500.9 2163.2 1499.5 2163.5 1498.2C2163.7 1496.9 2163.9 1495.6 2164.2 1494.3C2164.4 1493.0 2164.6 1491.7 2164.8 1490.4C2165.0 1489.1 2165.3 1487.8 2165.5 1486.5C2165.7 1485.1 2165.9 1483.8 2166.1 1482.5C2166.3 1481.2 2166.5 1479.9 2166.7 1478.6C2166.9 1477.3 2167.1 1476.0 2167.3 1474.6C2167.5 1473.3 2167.7 1472.0 2167.9 1470.7C2168.1 1469.4 2168.3 1468.1 2168.5 1466.8C2168.7 1465.4 2168.8 1464.1 2169.0 1462.8C2169.2 1461.5 2169.4 1460.2 2169.6 1458.9C2169.8 1457.5 2170.0 1456.2 2170.2 1454.9C2170.4 1453.6 2170.6 1452.3 2170.7 1451.0C2170.9 1449.7 2171.1 1448.3 2171.3 1447.0C2171.4 1445.7 2171.6 1444.4 2171.8 1443.1C2171.9 1441.8 2172.1 1440.4 2172.3 1439.1C2172.4 1437.8 2172.6 1436.5 2172.8 1435.2C2172.9 1433.8 2173.1 1432.5 2173.2 1431.2C2173.4 1429.9 2173.5 1428.6 2173.6 1427.2C2173.8 1425.9 2173.9 1424.6 2174.1 1423.3C2174.2 1422.0 2174.4 1420.6 2174.5 1419.3C2174.6 1418.0 2174.7 1416.7 2174.8 1415.3C2174.9 1414.0 2175.0 1412.7 2175.1 1411.4C2175.2 1410.0 2175.3 1408.7 2175.4 1407.4C2175.5 1406.1 2175.6 1404.7 2175.7 1403.4C2175.9 1402.1 2176.0 1400.8 2176.1 1399.5C2176.3 1398.1 2176.4 1396.8 2176.5 1395.5C2176.7 1394.2 2176.8 1392.8 2177.0 1391.5C2177.1 1390.2 2177.3 1388.9 2177.4 1387.6C2177.6 1386.3 2177.8 1384.9 2178.0 1383.6C2178.1 1382.3 2178.3 1381.0 2178.5 1379.7C2178.6 1378.4 2178.8 1377.0 2179.0 1375.7C2179.2 1374.4 2179.4 1373.1 2179.5 1371.8C2179.7 1370.5 2179.9 1369.1 2180.1 1367.8C2180.3 1366.5 2180.4 1365.2 2180.6 1363.9C2180.8 1362.6 2181.0 1361.2 2181.2 1359.9C2181.4 1358.6 2181.7 1357.3 2181.9 1356.0C2182.1 1354.7 2182.3 1353.4 2182.6 1352.1C2182.8 1350.8 2183.0 1349.5 2183.2 1348.1C2183.4 1346.8 2183.7 1345.5 2183.9 1344.2C2184.1 1342.9 2184.4 1341.6 2184.6 1340.3C2184.9 1339.0 2185.1 1337.7 2185.3 1336.4C2185.6 1335.1 2185.8 1333.8 2186.0 1332.5C2186.3 1331.1 2186.5 1329.8 2186.8 1328.5C2187.1 1327.2 2187.4 1325.9 2187.7 1324.7C2188.0 1323.4 2188.3 1322.1 2188.6 1320.8C2189.0 1319.5 2189.3 1318.2 2189.6 1316.9C2190.0 1315.7 2190.4 1314.4 2190.8 1313.1C2191.2 1311.9 2191.6 1310.6 2192.1 1309.4C2192.7 1308.2 2193.4 1307.1 2194.1 1306.0C2194.8 1304.9 2195.6 1303.8 2196.3 1302.7C2197.0 1301.6 2197.6 1300.4 2198.4 1299.4C2199.2 1298.4 2200.1 1296.8 2201.1 1296.8C2202.1 1296.8 2203.3 1298.3 2204.2 1299.2C2205.2 1300.1 2205.9 1301.2 2206.8 1302.2C2207.7 1303.2 2208.6 1304.1 2209.5 1305.1C2210.4 1306.1 2211.3 1307.0 2212.1 1308.1C2213.0 1309.1 2213.9 1310.4 2214.6 1311.2C2215.2 1311.9 2215.2 1312.7 2216.0 1312.6C2216.8 1312.5 2218.5 1311.6 2219.4 1310.8C2220.3 1310.0 2220.9 1308.9 2221.4 1307.8C2221.9 1306.6 2222.2 1305.3 2222.5 1304.0C2222.8 1302.7 2223.1 1301.4 2223.4 1300.0C2223.7 1298.7 2223.9 1297.4 2224.2 1296.1C2224.4 1294.7 2224.6 1293.4 2224.8 1292.1C2225.1 1290.8 2225.3 1289.4 2225.5 1288.1C2225.7 1286.8 2226.0 1285.5 2226.2 1284.1C2226.4 1282.8 2226.6 1281.5 2226.8 1280.1C2227.1 1278.8 2227.3 1277.5 2227.5 1276.2C2227.7 1274.8 2227.9 1273.5 2228.1 1272.2C2228.4 1270.8 2228.6 1269.5 2228.8 1268.2C2229.0 1266.9 2229.3 1265.5 2229.5 1264.2C2229.7 1262.9 2230.0 1261.6 2230.2 1260.2C2230.5 1258.9 2230.7 1257.6 2230.9 1256.3C2231.2 1254.9 2231.4 1253.6 2231.7 1252.3C2231.9 1251.0 2232.2 1249.6 2232.4 1248.3C2232.7 1247.0 2232.9 1245.7 2233.2 1244.4C2233.5 1243.0 2233.7 1241.7 2234.0 1240.4C2234.3 1239.1 2234.6 1237.8 2235.0 1236.5C2235.4 1235.2 2235.8 1233.9 2236.3 1232.7C2236.9 1231.5 2237.6 1229.4 2238.4 1229.3C2239.2 1229.2 2240.4 1231.0 2241.2 1232.1C2241.9 1233.1 2242.3 1234.3 2242.8 1235.6C2243.3 1236.8 2243.7 1238.1 2244.0 1239.4C2244.4 1240.7 2244.7 1242.0 2245.0 1243.3C2245.2 1244.6 2245.5 1245.9 2245.7 1247.2C2245.9 1248.5 2246.1 1249.8 2246.3 1251.2C2246.5 1252.5 2246.7 1253.8 2246.9 1255.1C2247.0 1256.5 2247.2 1257.8 2247.3 1259.1C2247.5 1260.4 2247.6 1261.8 2247.8 1263.1C2248.0 1264.4 2248.1 1265.7 2248.3 1267.1C2248.4 1268.4 2248.6 1269.7 2248.7 1271.0C2248.9 1272.4 2249.0 1273.7 2249.1 1275.0C2249.3 1276.4 2249.4 1277.7 2249.6 1279.0C2249.7 1280.3 2249.9 1281.7 2250.0 1283.0C2250.1 1284.3 2250.3 1285.7 2250.4 1287.0C2250.6 1288.3 2250.7 1289.6 2250.8 1291.0C2250.9 1292.3 2251.0 1293.6 2251.1 1295.0C2251.2 1296.3 2251.4 1297.6 2251.5 1299.0C2251.6 1300.3 2251.7 1301.6 2251.8 1303.0C2251.9 1304.3 2252.0 1305.6 2252.1 1307.0C2252.3 1308.3 2252.4 1309.6 2252.5 1310.9C2252.6 1312.3 2252.7 1313.6 2252.9 1314.9C2253.0 1316.3 2253.1 1317.6 2253.2 1318.9C2253.4 1320.3 2253.5 1321.6 2253.6 1322.9C2253.7 1324.2 2253.8 1325.6 2253.9 1326.9C2254.0 1328.2 2254.1 1329.6 2254.1 1330.9C2254.2 1332.2 2254.2 1333.6 2254.3 1334.9C2254.4 1336.2 2254.4 1337.6 2254.5 1338.9C2254.5 1340.3 2254.6 1341.6 2254.6 1342.9C2254.7 1344.3 2254.8 1345.6 2254.9 1346.9C2255.0 1348.2 2255.2 1349.6 2255.3 1350.9C2255.4 1352.2 2255.6 1353.6 2255.7 1354.9C2255.8 1356.2 2256.0 1357.6 2256.1 1358.9C2256.2 1360.2 2256.4 1361.5 2256.5 1362.9C2256.6 1364.2 2256.8 1365.5 2256.9 1366.9C2257.0 1368.2 2257.1 1369.5 2257.2 1370.8C2257.3 1372.2 2257.5 1373.5 2257.6 1374.8C2257.7 1376.2 2257.8 1377.5 2257.9 1378.8C2258.0 1380.2 2258.2 1381.5 2258.3 1382.8C2258.4 1384.2 2258.5 1385.5 2258.6 1386.8C2258.7 1388.2 2258.8 1389.5 2258.9 1390.8C2259.0 1392.1 2259.1 1393.5 2259.2 1394.8C2259.3 1396.1 2259.4 1397.5 2259.5 1398.8C2259.6 1400.1 2259.7 1401.5 2259.9 1402.8C2260.0 1404.1 2260.1 1405.5 2260.2 1406.8C2260.3 1408.1 2260.4 1409.5 2260.6 1410.8C2260.7 1412.1 2260.8 1413.4 2261.0 1414.8C2261.1 1416.1 2261.2 1417.4 2261.4 1418.8C2261.5 1420.1 2261.6 1421.4 2261.8 1422.7C2261.9 1424.1 2262.0 1425.4 2262.2 1426.7C2262.3 1428.1 2262.5 1429.4 2262.6 1430.7C2262.7 1432.1 2262.9 1433.4 2263.0 1434.7C2263.1 1436.0 2263.3 1437.4 2263.4 1438.7C2263.5 1440.0 2263.7 1441.4 2263.8 1442.7C2264.0 1444.0 2264.2 1445.3 2264.3 1446.7C2264.5 1448.0 2264.6 1449.3 2264.8 1450.6C2265.0 1452.0 2265.1 1453.3 2265.3 1454.6C2265.4 1455.9 2265.6 1457.3 2265.8 1458.6C2265.9 1459.9 2266.1 1461.2 2266.2 1462.6C2266.4 1463.9 2266.6 1465.2 2266.8 1466.5C2266.9 1467.9 2267.1 1469.2 2267.3 1470.5C2267.4 1471.8 2267.6 1473.2 2267.8 1474.5C2268.0 1475.8 2268.1 1477.1 2268.3 1478.5C2268.5 1479.8 2268.7 1481.1 2268.9 1482.4C2269.0 1483.8 2269.3 1485.1 2269.5 1486.4C2269.7 1487.7 2269.9 1489.0 2270.1 1490.4C2270.3 1491.7 2270.5 1493.0 2270.7 1494.3C2270.9 1495.6 2271.1 1497.0 2271.3 1498.3C2271.5 1499.6 2271.7 1500.9 2271.9 1502.2C2272.1 1503.6 2272.3 1504.9 2272.4 1506.2C2272.6 1507.5 2272.8 1508.9 2273.0 1510.2C2273.2 1511.5 2273.4 1512.8 2273.5 1514.2C2273.7 1515.5 2273.9 1516.8 2274.1 1518.1C2274.3 1519.4 2274.5 1520.8 2274.7 1522.1C2274.9 1523.4 2275.1 1524.7 2275.3 1526.0C2275.5 1527.4 2275.7 1528.7 2276.0 1530.0C2276.2 1531.3 2276.5 1532.6 2276.7 1533.9C2277.0 1535.2 2277.3 1536.5 2277.6 1537.8C2277.9 1539.2 2278.1 1540.5 2278.4 1541.8C2278.7 1543.1 2279.0 1544.4 2279.3 1545.7C2279.6 1547.0 2279.9 1548.3 2280.2 1549.6C2280.5 1550.9 2280.8 1552.2 2281.1 1553.5C2281.4 1554.8 2281.7 1556.1 2282.0 1557.4C2282.2 1558.7 2282.5 1560.0 2282.8 1561.3C2283.1 1562.6 2283.4 1563.9 2283.8 1565.2C2284.2 1566.5 2284.7 1567.7 2285.1 1568.9C2285.6 1570.2 2286.2 1571.4 2286.7 1572.6C2287.1 1573.9 2287.5 1575.2 2287.9 1576.4C2288.3 1577.7 2288.7 1579.0 2289.0 1580.3C2289.4 1581.6 2289.7 1582.9 2290.1 1584.2C2290.4 1585.5 2290.7 1586.7 2291.1 1588.0C2291.4 1589.3 2291.8 1590.6 2292.1 1591.9C2292.4 1593.2 2292.7 1594.5 2293.1 1595.8C2293.4 1597.1 2293.3 1598.7 2294.0 1599.7C2294.7 1600.7 2296.2 1601.2 2297.0 1602.1C2297.8 1603.0 2298.4 1604.2 2298.9 1605.3C2299.4 1606.5 2299.7 1607.8 2300.0 1609.1C2300.4 1610.4 2300.6 1611.7 2300.9 1612.9C2301.2 1614.2 2301.5 1615.5 2301.8 1616.8C2302.2 1618.1 2302.5 1619.3 2302.9 1620.6C2303.3 1621.9 2303.7 1623.1 2304.1 1624.4C2304.5 1625.6 2305.1 1627.2 2305.4 1628.1C2305.7 1629.1 2305.9 1629.7 2306.0 1630.0"/>
</g>
<g font-size="86px" stroke="#000" stroke-width="0.4">
<text transform="translate(309.3 78.4) scale(1 1.04)" text-anchor="end">1.0</text>
<text transform="translate(309.3 859.4) scale(1 1.04)" text-anchor="end">0.5</text>
<text transform="translate(309.3 1640.4) scale(1 1.04)" text-anchor="end">0.0</text>
<text transform="translate(564.1 1748.2) scale(1 1.035)" text-anchor="middle">300</text>
<text transform="translate(978.2 1748.2) scale(1 1.035)" text-anchor="middle">400</text>
<text transform="translate(1392.3 1748.2) scale(1 1.035)" text-anchor="middle">500</text>
<text transform="translate(1806.4 1748.2) scale(1 1.035)" text-anchor="middle">600</text>
<text transform="translate(2220.5 1748.2) scale(1 1.035)" text-anchor="middle">700</text>
</g>
<g stroke="#000" stroke-width="0.4">
<text transform="translate(1331.5 1886.8) scale(1 1.06)" font-size="86.6px" text-anchor="middle">Wavelength (nm)</text>
<text transform="translate(101.2 859.7) rotate(-90) scale(1 1.04)" font-size="85.7px" text-anchor="middle">Normalized Emission</text>
</g>
<rect x="544.9" y="61.8" width="1277.5" height="291.2" fill="#fff" stroke="#000" stroke-width="2.4"/>
<g fill="none" stroke-linecap="round">
<path d="M573.7 111.5H735.7" stroke="#0000ff" stroke-width="7.8"/>
<path d="M573.7 199.3H735.7" stroke="#ff0000" stroke-width="7.8"/>
<path d="M574.3 290H735.1" stroke="#000" stroke-width="8.8"/>
</g>
<g font-size="73px" stroke="#000" stroke-width="0.4">
<text transform="translate(755.5 136) scale(1 1.03)">Excitation (monitored at 620 nm)</text>
<text transform="translate(755.5 224.8) scale(1 1.03)">Excitation (monitored at 470 nm)</text>
<text transform="translate(755.5 314.8) scale(1 1.03)">Emission (<tspan class="lam" font-size="66px">λ</tspan><tspan font-size="42.5px" dy="28.3" dx="4.6">exc</tspan><tspan dy="-28.3"> = 365 nm)</tspan></text>
</g>
</svg>
</body></html>
